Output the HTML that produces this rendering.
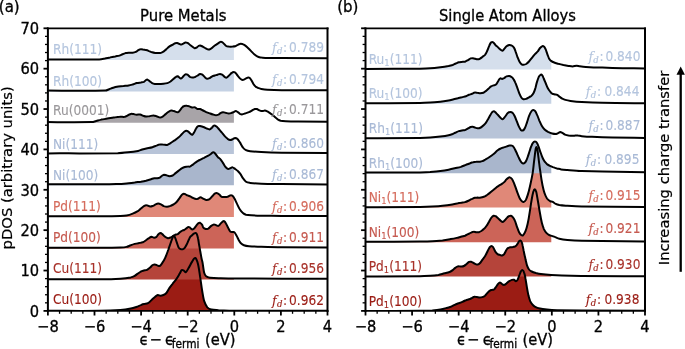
<!DOCTYPE html>
<html><head><meta charset="utf-8"><title>pDOS</title><style>html,body{margin:0;padding:0;background:#fff}</style></head><body>
<svg width="685" height="349" viewBox="0 0 685 349" style="display:block;will-change:transform">
<rect width="685" height="349" fill="#fff"/>
<clipPath id="cp0"><rect x="47.9" y="28.3" width="279.6" height="282.6"/></clipPath>
<clipPath id="cf0"><rect x="47.9" y="28.3" width="186.0" height="282.6"/></clipPath>
<g clip-path="url(#cf0)">
<path d="M46.9,310.8C64.6,310.8 82.3,311.0 100.0,310.8C106.8,310.7 113.6,310.4 120.4,309.9C123.8,309.7 127.2,309.2 130.7,308.5C132.7,308.2 134.7,307.5 136.8,306.8C138.1,306.3 139.5,305.6 140.9,305.1C141.9,304.7 142.9,304.3 143.9,304.1C145.3,303.7 146.7,304.0 148.0,303.2C149.4,302.5 150.8,300.8 152.1,299.5C153.1,298.6 154.2,297.5 155.2,296.7C156.1,296.0 157.0,295.2 157.8,295.0C158.7,294.9 159.5,295.7 160.3,295.7C161.3,295.7 162.3,295.5 163.4,295.0C164.4,294.6 165.4,294.2 166.4,293.0C167.4,291.8 168.5,289.4 169.5,287.9C170.5,286.4 171.5,285.1 172.6,283.8C173.9,282.1 175.3,280.6 176.6,278.7C177.7,277.2 178.7,275.3 179.7,273.6C180.4,272.4 181.1,270.6 181.7,270.1C182.4,269.6 183.1,270.2 183.8,270.5C184.5,270.9 185.2,272.6 185.8,272.2C186.9,271.5 187.9,269.2 188.9,267.5C189.9,265.8 190.9,263.6 192.0,261.9C192.8,260.6 193.6,258.9 194.4,258.3C195.0,257.8 195.5,257.8 196.1,258.7C196.7,259.8 197.4,261.4 198.1,264.4C198.8,267.4 199.5,272.2 200.1,276.7C200.8,281.1 201.5,286.9 202.2,291.0C202.9,295.0 203.5,299.0 204.2,301.2C205.3,304.4 206.3,306.1 207.3,307.3C208.7,308.9 210.0,309.2 211.4,309.5C213.8,310.1 216.2,310.0 218.5,310.2C225.7,310.5 232.8,310.7 240.0,310.8C269.5,310.9 299.0,310.8 328.5,310.8L328.5,310.9L46.9,310.9Z" fill="#9b1c14"/>
<path d="M46.9,279.2C64.6,279.2 82.3,279.3 100.0,279.2C106.8,279.2 113.6,279.1 120.4,278.7C123.8,278.5 127.2,278.1 130.7,277.4C132.0,277.1 133.4,276.5 134.7,275.8C135.8,275.2 136.8,274.3 137.8,273.6C138.8,272.9 139.9,272.1 140.9,271.5C141.9,271.0 142.9,270.8 143.9,270.5C145.0,270.3 146.0,270.4 147.0,269.9C148.0,269.4 149.0,268.3 150.1,267.5C151.0,266.7 151.8,265.6 152.7,265.0C153.4,264.6 154.1,264.3 154.8,264.4C155.6,264.5 156.4,265.1 157.2,265.4C158.0,265.7 158.9,266.4 159.7,266.0C160.5,265.6 161.4,264.2 162.3,262.9C163.3,261.4 164.3,259.9 165.3,257.6C166.3,255.4 167.4,252.2 168.4,249.5C169.2,247.1 170.1,244.7 170.9,242.3C171.6,240.4 172.3,238.2 173.0,236.7C173.3,235.9 173.7,235.4 174.0,235.7C174.5,236.0 174.9,237.1 175.3,238.2C175.9,239.7 176.5,241.7 177.1,243.3C177.6,244.8 178.1,246.5 178.6,247.4C179.1,248.4 179.6,248.7 180.1,248.9C181.0,249.3 181.8,249.4 182.7,249.3C183.4,249.1 184.1,248.7 184.7,247.9C185.4,247.1 186.1,245.7 186.8,244.3C187.5,243.0 188.1,241.2 188.8,239.8C189.3,238.7 189.9,237.4 190.4,236.7C190.9,236.0 191.4,235.8 191.9,235.4C192.6,234.8 193.3,234.1 193.9,233.6C194.5,233.3 195.0,232.8 195.5,232.9C195.9,233.0 196.4,233.2 196.8,234.1C197.2,235.0 197.6,236.4 198.0,238.2C198.4,239.8 198.7,242.3 199.0,244.3C199.5,246.8 199.9,249.2 200.3,251.5C200.7,254.0 201.2,256.5 201.6,258.7C201.9,260.3 202.3,261.0 202.6,262.9C203.1,265.7 203.6,270.7 204.1,272.6C204.8,275.2 205.4,275.7 206.1,276.2C207.5,277.4 208.9,277.5 210.2,277.7C213.6,278.2 217.0,278.2 220.4,278.3C224.9,278.4 229.3,278.5 233.7,278.5C249.7,278.6 265.7,278.7 281.7,278.7C297.1,278.7 312.4,278.7 327.7,278.7L327.7,279.6L46.9,279.6Z" fill="#b5443a"/>
<path d="M46.9,247.8C64.6,247.8 82.3,247.8 100.0,247.8C106.8,247.7 113.6,247.8 120.4,247.6C122.5,247.5 124.5,247.4 126.6,246.9C127.9,246.6 129.3,245.8 130.7,245.3C132.0,244.8 133.4,244.3 134.7,243.9C136.1,243.5 137.5,243.3 138.8,243.1C140.2,242.8 141.6,242.8 142.9,242.2C143.9,241.8 145.0,240.9 146.0,240.2C147.0,239.5 148.0,238.8 149.0,238.2C149.9,237.6 150.7,236.8 151.5,236.7C152.4,236.7 153.3,237.7 154.2,237.8C154.8,237.8 155.5,237.7 156.2,237.1C156.9,236.6 157.6,235.2 158.2,234.5C158.9,233.8 159.6,233.1 160.3,233.0C161.0,233.0 161.7,233.5 162.3,234.1C163.2,234.8 164.1,236.1 165.0,236.7C165.9,237.4 166.9,238.0 167.9,238.2C168.7,238.3 169.6,237.9 170.5,237.5C171.2,237.3 171.9,236.7 172.6,236.3C173.2,235.9 173.9,235.4 174.6,235.1C175.6,234.6 176.6,234.6 177.7,234.1C178.5,233.6 179.3,232.7 180.1,232.0C180.8,231.5 181.5,230.9 182.2,230.6C182.8,230.3 183.5,230.3 184.2,230.0C184.9,229.6 185.6,229.1 186.2,228.6C186.9,228.0 187.6,227.1 188.3,226.9C188.8,226.8 189.4,227.2 189.9,227.5C190.6,228.0 191.3,229.2 192.0,229.4C192.6,229.5 193.3,229.1 194.0,228.6C194.7,228.0 195.4,226.7 196.1,225.9C196.7,225.0 197.4,224.0 198.1,223.4C198.8,222.9 199.5,222.6 200.1,222.8C200.8,223.1 201.5,223.8 202.2,224.9C202.5,225.3 202.8,227.0 203.1,227.3C204.0,228.4 204.8,228.7 205.7,229.0C206.5,229.2 207.4,229.0 208.2,228.6C209.2,228.0 210.2,226.6 211.2,225.9C212.1,225.3 213.0,224.6 213.9,224.5C214.7,224.4 215.5,225.0 216.3,225.3C217.0,225.5 217.7,226.1 218.4,225.9C219.1,225.7 219.8,224.5 220.4,223.9C221.3,223.0 222.1,221.9 222.9,221.4C223.4,221.1 224.0,221.0 224.5,221.4C225.1,221.8 225.6,222.9 226.2,223.9C226.8,225.1 227.5,226.7 228.2,227.9C228.9,229.2 229.6,230.8 230.2,231.4C231.1,232.2 231.9,231.8 232.7,232.0C233.4,232.2 234.1,232.0 234.7,232.6C235.4,233.3 236.1,234.9 236.8,236.1C237.5,237.4 238.1,239.0 238.8,240.2C239.5,241.4 240.2,242.6 240.9,243.3C241.9,244.3 242.9,244.9 243.9,245.3C245.6,246.0 247.3,246.2 249.0,246.3C253.1,246.7 257.2,246.6 261.3,246.7C268.1,246.9 274.9,247.1 281.7,247.2C297.1,247.3 312.4,247.3 327.7,247.4L327.7,248.5L46.9,248.5Z" fill="#cc6458"/>
<path d="M46.9,216.3C64.6,216.3 82.3,216.3 100.0,216.3C106.8,216.3 113.6,216.3 120.4,216.1C122.5,216.0 124.5,215.9 126.6,215.5C128.6,215.1 130.7,214.4 132.7,213.6C134.4,213.0 136.1,212.2 137.8,211.2C138.8,210.5 139.9,209.4 140.9,208.5C141.9,207.7 142.9,206.7 143.9,206.1C144.8,205.6 145.7,205.2 146.6,205.3C147.8,205.3 148.9,206.4 150.1,206.5C151.1,206.6 152.1,206.2 153.1,205.9C154.0,205.6 154.8,204.8 155.6,204.4C156.5,204.0 157.4,203.6 158.2,203.6C159.1,203.6 160.0,204.0 160.9,204.4C161.9,204.9 162.8,205.7 163.8,206.1C164.9,206.5 165.9,206.7 167.0,206.7C168.2,206.7 169.4,206.3 170.5,205.9C171.5,205.5 172.6,205.1 173.6,204.4C174.6,203.8 175.6,203.1 176.6,202.0C177.7,200.9 178.7,199.3 179.7,197.9C180.5,196.8 181.3,195.4 182.2,194.6C182.8,194.0 183.5,193.7 184.2,193.8C185.1,193.9 186.0,194.9 186.9,195.2C187.9,195.7 188.9,195.8 189.9,196.3C190.9,196.7 192.0,197.4 193.0,197.9C194.0,198.4 195.0,199.0 196.1,199.1C196.7,199.2 197.4,199.0 198.1,198.7C198.9,198.4 199.7,197.3 200.6,197.3C201.4,197.3 202.2,198.3 203.1,198.7C204.1,199.2 205.1,199.8 206.1,199.9C207.2,200.0 208.2,199.9 209.2,199.3C210.2,198.7 211.2,197.3 212.3,196.3C213.1,195.4 213.9,194.1 214.7,193.6C215.6,193.1 216.5,193.0 217.4,193.2C218.1,193.3 218.7,194.0 219.4,194.6C220.1,195.2 220.8,196.4 221.5,196.7C222.5,197.1 223.5,196.9 224.5,196.9C225.5,196.9 226.6,196.9 227.6,196.7C228.5,196.4 229.4,195.6 230.2,195.4C230.9,195.3 231.6,195.2 232.3,195.6C233.0,196.1 233.7,197.1 234.3,198.3C235.2,199.7 236.0,201.8 236.8,203.4C237.8,205.5 238.8,207.9 239.9,209.5C240.9,211.1 241.9,212.2 242.9,213.0C243.9,213.9 245.0,214.4 246.0,214.7C247.7,215.1 249.4,215.2 251.1,215.3C254.5,215.5 257.9,215.6 261.3,215.7C268.1,215.8 274.9,215.8 281.7,215.9C297.1,216.0 312.4,216.0 327.7,216.1L327.7,216.9L46.9,216.9Z" fill="#e08878"/>
<path d="M46.9,184.3C64.6,184.3 82.3,184.4 100.0,184.3C105.4,184.3 110.9,184.3 116.3,184.1C119.8,184.0 123.2,183.8 126.6,183.5C129.3,183.3 132.0,182.8 134.7,182.5C136.8,182.2 138.8,182.0 140.9,181.7C142.6,181.4 144.3,181.1 146.0,180.7C147.7,180.2 149.4,179.7 151.1,179.2C152.1,178.9 153.1,178.4 154.2,178.2C155.2,178.0 156.2,178.3 157.2,178.2C158.0,178.1 158.9,178.0 159.7,177.6C160.4,177.2 161.2,176.2 161.9,175.8C162.6,175.3 163.3,174.8 164.0,174.7C164.8,174.7 165.6,175.1 166.4,175.3C167.4,175.6 168.5,176.1 169.5,176.2C170.5,176.2 171.5,176.1 172.6,175.5C173.6,175.0 174.6,173.9 175.6,173.1C176.6,172.3 177.7,171.4 178.7,170.6C179.7,169.9 180.7,169.0 181.7,168.4C182.8,167.8 183.8,167.3 184.8,167.0C185.8,166.7 186.9,166.6 187.9,166.6C188.6,166.5 189.2,166.8 189.9,166.6C190.7,166.3 191.6,165.5 192.4,164.9C193.3,164.3 194.1,163.5 195.0,162.9C196.1,162.1 197.1,161.5 198.1,160.8C198.7,160.4 199.4,160.1 200.0,159.8C201.4,159.1 202.7,158.4 204.1,157.8C205.4,157.1 206.8,156.5 208.2,155.7C209.2,155.1 210.2,154.4 211.2,153.7C211.9,153.2 212.6,152.2 213.3,152.2C214.0,152.2 214.6,153.0 215.3,153.7C216.2,154.6 217.1,156.2 218.0,157.2C218.8,158.0 219.6,158.2 220.4,159.2C221.3,160.1 222.1,161.6 222.9,162.9C223.8,164.2 224.7,165.9 225.5,167.0C226.4,168.0 227.3,168.8 228.2,169.0C229.0,169.2 229.8,168.3 230.7,168.0C231.3,167.7 232.0,167.2 232.7,167.4C233.5,167.6 234.3,168.4 235.2,169.0C236.0,169.6 236.9,170.2 237.8,171.0C238.7,171.9 239.6,172.9 240.5,174.1C241.3,175.3 242.1,177.1 242.9,178.2C243.9,179.6 245.0,181.0 246.0,181.7C247.3,182.6 248.7,182.7 250.1,182.9C253.8,183.4 257.6,183.6 261.3,183.7C268.1,184.0 274.9,184.0 281.7,184.1C297.1,184.3 312.4,184.4 327.7,184.5L327.7,185.3L46.9,185.3Z" fill="#a9b6cc"/>
<path d="M40.0,153.4C65.9,153.3 91.8,153.5 117.7,153.2C121.1,153.1 124.5,152.7 127.9,152.3C131.3,152.0 134.7,151.6 138.1,150.9C139.5,150.6 140.8,149.9 142.2,149.5C143.9,149.0 145.6,148.6 147.3,148.2C149.0,147.9 150.7,147.7 152.4,147.2C153.8,146.8 155.1,146.1 156.5,145.6C157.5,145.2 158.5,144.7 159.6,144.6C160.6,144.4 161.6,144.5 162.6,144.6C164.0,144.6 165.3,144.9 166.7,145.0C167.0,145.0 167.2,145.0 167.4,144.9C168.5,144.4 169.5,143.7 170.5,143.1C171.9,142.2 173.2,141.3 174.6,140.4C176.0,139.4 177.3,138.5 178.7,137.3C179.7,136.5 180.7,135.3 181.7,134.3C182.6,133.4 183.4,132.4 184.2,131.8C184.9,131.3 185.6,130.8 186.2,130.8C186.9,130.8 187.6,131.1 188.3,131.6C189.0,132.1 189.7,133.1 190.3,133.6C191.0,134.2 191.7,134.9 192.4,134.7C192.9,134.5 193.5,133.5 194.0,132.6C194.7,131.5 195.4,129.6 196.1,128.5C196.7,127.4 197.4,126.5 198.1,126.1C198.7,125.7 199.4,126.0 200.0,126.1C201.4,126.4 202.7,126.8 204.1,127.3C205.1,127.7 206.1,128.4 207.2,128.7C208.0,129.1 208.9,129.5 209.8,129.4C210.5,129.2 211.2,128.3 211.9,127.7C212.5,127.1 213.2,126.0 213.9,125.7C214.6,125.4 215.3,125.7 215.9,126.1C216.8,126.6 217.6,127.6 218.4,128.5C219.4,129.7 220.4,131.0 221.5,132.2C222.5,133.4 223.5,134.8 224.5,135.9C225.5,137.0 226.6,138.0 227.6,138.8C228.5,139.4 229.4,139.9 230.2,140.0C231.1,140.1 231.9,139.5 232.7,139.2C233.5,138.8 234.3,138.0 235.2,137.9C235.8,137.9 236.5,138.1 237.2,138.8C238.1,139.6 239.0,141.1 239.9,142.4C240.9,144.0 241.9,146.3 242.9,147.5C243.9,148.8 245.0,149.7 246.0,150.2C247.3,150.9 248.7,151.1 250.1,151.2C253.8,151.7 257.6,151.9 261.3,152.0C268.1,152.4 274.9,152.6 281.7,152.7C297.1,152.9 312.4,152.9 327.7,153.1L327.7,154.0L40.0,154.0Z" fill="#b8c4d8"/>
<path d="M40.0,122.1C57.4,122.1 74.7,122.4 92.1,122.1C93.5,122.1 94.8,121.4 96.2,121.1C97.9,120.6 99.6,120.0 101.3,119.6C103.4,119.2 105.4,119.0 107.4,118.6C109.5,118.3 111.5,117.9 113.6,117.6C115.6,117.3 117.7,116.9 119.7,116.8C121.4,116.6 123.1,117.1 124.8,116.8C125.8,116.6 126.9,115.8 127.9,115.3C128.9,114.9 129.9,114.1 130.9,113.9C131.8,113.7 132.7,114.0 133.6,114.1C134.6,114.3 135.5,114.7 136.5,114.7C137.7,114.8 138.9,114.3 140.1,114.5C141.2,114.7 142.2,115.4 143.2,115.8C144.1,116.1 145.0,116.5 145.9,116.6C147.0,116.6 148.2,116.3 149.3,116.2C150.7,116.0 152.1,115.5 153.4,115.5C154.4,115.5 155.5,115.9 156.5,116.2C157.7,116.5 158.9,117.5 160.2,117.6C161.0,117.6 161.8,117.1 162.6,116.6C163.6,115.9 164.7,114.9 165.7,114.1C166.7,113.3 167.7,112.3 168.8,111.7C169.6,111.1 170.4,110.7 171.2,110.6C172.1,110.5 173.0,110.8 173.9,111.1C174.8,111.3 175.6,111.8 176.5,112.1C177.0,112.2 177.6,112.4 178.1,112.1C178.8,111.7 179.4,110.9 180.1,110.1C180.8,109.3 181.5,108.1 182.2,107.4C182.8,106.7 183.5,106.2 184.2,106.0C185.1,105.7 186.0,105.7 186.9,105.8C187.7,105.8 188.6,106.1 189.5,106.4C190.3,106.7 191.2,107.3 192.0,107.4C193.0,107.6 194.0,107.1 195.0,107.4C195.9,107.7 196.8,108.8 197.7,109.0C198.5,109.3 199.2,108.8 200.0,109.0C201.0,109.3 202.0,110.0 203.1,110.5C204.1,111.0 205.1,111.7 206.1,112.1C207.5,112.7 208.9,113.1 210.2,113.5C211.2,113.9 212.3,114.3 213.3,114.6C214.2,114.8 215.1,115.2 215.9,115.2C216.8,115.2 217.6,114.9 218.4,114.6C219.1,114.3 219.8,113.5 220.4,113.1C221.3,112.7 222.1,112.4 222.9,112.3C223.8,112.2 224.7,112.5 225.5,112.7C226.6,112.9 227.6,113.5 228.6,113.5C229.4,113.6 230.2,113.4 231.1,113.1C232.0,112.9 232.8,112.5 233.7,112.1C234.4,111.8 235.1,111.1 235.8,111.1C236.4,111.1 237.1,111.7 237.8,112.1C238.5,112.6 239.2,113.4 239.9,113.8C240.5,114.1 241.2,114.4 241.9,114.4C242.9,114.3 243.9,113.9 245.0,113.5C246.3,113.1 247.7,112.7 249.0,112.1C250.1,111.7 251.1,111.0 252.1,110.5C253.0,110.0 253.9,109.3 254.8,109.0C255.5,108.8 256.1,108.9 256.8,109.0C257.6,109.3 258.5,109.9 259.3,110.3C259.9,110.6 260.6,111.0 261.3,111.1C262.1,111.2 262.9,110.8 263.8,110.7C264.4,110.6 265.1,110.5 265.8,110.7C266.7,111.0 267.6,111.6 268.5,112.1C269.5,112.7 270.5,113.4 271.5,114.2C272.6,114.9 273.6,116.0 274.6,116.8C275.6,117.7 276.6,118.6 277.7,119.3C278.7,119.9 279.7,120.4 280.7,120.7C282.4,121.1 284.1,121.2 285.8,121.3C289.9,121.5 294.0,121.5 298.1,121.5C308.0,121.6 317.9,121.7 327.7,121.7L327.7,122.7L40.0,122.7Z" fill="#a8a4a8"/>
<path d="M40.0,90.6C61.8,90.6 83.6,91.1 105.4,90.6C106.7,90.6 107.9,89.7 109.2,89.2C110.6,88.7 111.9,88.1 113.3,87.7C115.0,87.2 116.7,86.9 118.4,86.6C120.1,86.3 121.8,86.1 123.5,86.0C125.2,85.8 126.9,85.8 128.6,85.5C130.0,85.3 131.3,84.9 132.7,84.5C134.1,84.1 135.4,83.4 136.8,83.1C138.1,82.8 139.5,82.7 140.9,82.5C141.9,82.3 142.9,82.4 143.9,81.9C144.6,81.5 145.3,80.5 146.0,80.0C146.5,79.7 146.9,79.5 147.4,79.6C148.1,79.8 148.8,80.5 149.5,81.1C150.3,81.7 151.2,82.6 152.1,83.1C153.0,83.6 153.9,83.8 154.8,83.9C156.3,84.1 157.8,83.9 159.3,83.9C160.6,83.9 162.0,83.8 163.4,83.7C164.7,83.6 166.1,83.5 167.4,83.1C168.5,82.8 169.5,82.2 170.5,81.5C171.5,80.7 172.6,79.7 173.6,78.8C174.4,78.1 175.2,77.2 176.0,76.8C176.6,76.4 177.1,76.2 177.7,76.3C178.3,76.5 179.0,77.4 179.7,77.8C180.3,78.1 180.8,78.6 181.3,78.4C182.0,78.1 182.7,77.0 183.4,76.3C184.1,75.7 184.7,74.6 185.4,74.3C186.1,74.0 186.8,74.3 187.5,74.7C188.3,75.2 189.1,76.3 189.9,76.8C190.7,77.2 191.6,77.5 192.4,77.6C193.3,77.6 194.1,77.3 195.0,77.0C195.9,76.6 196.8,76.1 197.7,75.5C198.5,75.1 199.2,74.0 200.0,73.9C200.8,73.8 201.6,74.2 202.5,74.7C203.3,75.3 204.2,76.6 205.1,77.4C205.8,78.0 206.5,78.7 207.2,78.8C208.0,78.9 208.9,78.4 209.8,78.0C210.6,77.6 211.4,76.8 212.3,76.3C213.1,75.9 213.9,75.8 214.7,75.5C215.6,75.2 216.5,75.0 217.4,74.7C218.3,74.4 219.1,73.9 220.0,73.9C220.7,73.9 221.4,74.3 222.1,74.7C222.9,75.2 223.7,76.2 224.5,76.8C225.2,77.2 225.9,77.8 226.6,77.6C227.4,77.4 228.2,76.3 229.0,75.5C229.9,74.7 230.8,73.6 231.7,72.9C232.4,72.3 233.0,71.8 233.7,71.9C234.4,71.9 235.1,72.4 235.8,73.1C236.4,73.8 237.1,75.1 237.8,75.9C238.5,76.8 239.2,77.7 239.9,78.4C240.5,79.0 241.2,79.6 241.9,79.8C242.6,80.0 243.3,79.9 243.9,79.6C244.6,79.4 245.3,78.7 246.0,78.4C246.7,78.1 247.3,77.7 248.0,77.6C248.6,77.5 249.1,77.5 249.7,78.0C250.3,78.5 250.9,79.5 251.5,80.4C252.2,81.5 252.9,83.1 253.5,84.1C254.2,85.1 254.9,86.0 255.6,86.6C256.5,87.3 257.4,87.6 258.2,88.0C259.3,88.4 260.3,88.8 261.3,89.0C263.4,89.4 265.4,89.7 267.4,89.8C272.2,90.1 277.0,90.2 281.7,90.2C297.1,90.4 312.4,90.2 327.7,90.2L327.7,91.5L40.0,91.5Z" fill="#c5d2e4"/>
<path d="M40.0,59.5C59.8,59.5 79.5,59.8 99.3,59.5C101.2,59.5 103.2,58.9 105.1,58.5C106.8,58.2 108.5,57.7 110.2,57.4C111.9,57.0 113.6,56.7 115.3,56.4C116.7,56.1 118.1,56.0 119.4,55.6C120.4,55.3 121.5,54.6 122.5,54.2C123.5,53.8 124.5,53.4 125.5,53.1C126.6,52.9 127.6,52.8 128.6,52.7C130.0,52.7 131.3,52.9 132.7,52.7C133.7,52.6 134.7,52.4 135.8,51.9C136.7,51.5 137.5,50.6 138.4,50.1C139.1,49.7 139.8,49.3 140.5,49.3C141.3,49.1 142.1,49.3 142.9,49.5C143.9,49.6 145.0,49.8 146.0,50.1C147.0,50.3 148.0,50.7 149.0,51.1C150.1,51.5 151.1,52.0 152.1,52.3C153.1,52.6 154.2,52.8 155.2,52.9C156.2,53.1 157.2,53.1 158.2,53.1C159.1,53.1 160.0,53.2 160.9,52.9C161.7,52.7 162.5,52.3 163.4,51.7C164.4,51.0 165.4,49.9 166.4,49.1C167.4,48.2 168.5,47.1 169.5,46.4C170.5,45.7 171.5,45.3 172.6,44.8C173.4,44.3 174.3,43.6 175.2,43.3C175.9,43.1 176.6,43.0 177.3,43.1C177.9,43.2 178.6,43.7 179.3,43.9C180.0,44.2 180.7,44.6 181.3,44.6C182.0,44.5 182.7,43.9 183.4,43.5C184.1,43.2 184.7,42.6 185.4,42.5C186.1,42.4 186.8,42.6 187.5,42.9C188.3,43.3 189.1,44.1 189.9,44.8C190.7,45.4 191.6,46.2 192.4,46.8C193.1,47.4 193.9,48.1 194.6,48.2C195.2,48.4 195.9,48.0 196.5,47.6C197.1,47.2 197.8,46.4 198.5,46.0C199.0,45.7 199.5,45.3 200.0,45.4C201.0,45.6 202.0,46.3 203.1,46.8C204.0,47.3 204.8,48.0 205.7,48.4C206.5,48.9 207.4,49.4 208.2,49.5C209.0,49.5 209.8,49.3 210.6,48.8C211.5,48.4 212.4,47.5 213.3,46.8C214.2,46.1 215.1,45.4 215.9,44.8C216.8,44.2 217.6,43.6 218.4,43.1C219.1,42.7 219.8,42.1 220.4,41.9C221.0,41.7 221.5,41.8 222.1,42.1C222.8,42.5 223.4,43.3 224.1,43.9C224.8,44.6 225.5,45.6 226.2,46.0C227.0,46.5 227.8,46.5 228.6,46.6C230.0,46.7 231.3,46.7 232.7,46.6C233.7,46.5 234.7,46.4 235.8,46.0C236.4,45.7 237.1,45.1 237.8,44.8C238.5,44.4 239.2,44.0 239.9,43.9C240.7,43.8 241.6,43.9 242.5,44.1C243.3,44.4 244.1,44.8 245.0,45.4C246.0,46.1 247.0,47.1 248.0,48.0C249.0,49.0 250.1,50.1 251.1,51.1C252.1,52.1 253.1,53.3 254.2,54.2C255.2,55.0 256.2,55.8 257.2,56.3C258.2,56.9 259.3,57.2 260.3,57.4C262.0,57.8 263.7,57.9 265.4,57.9C270.8,58.1 276.3,58.1 281.7,58.1C297.1,58.2 312.4,58.2 327.7,58.3L327.7,60.0L40.0,60.0Z" fill="#d5dfec"/>
</g>
<g clip-path="url(#cp0)" fill="none" stroke="#000" stroke-width="2.0" stroke-linejoin="round">
<path d="M46.9,310.8C64.6,310.8 82.3,311.0 100.0,310.8C106.8,310.7 113.6,310.4 120.4,309.9C123.8,309.7 127.2,309.2 130.7,308.5C132.7,308.2 134.7,307.5 136.8,306.8C138.1,306.3 139.5,305.6 140.9,305.1C141.9,304.7 142.9,304.3 143.9,304.1C145.3,303.7 146.7,304.0 148.0,303.2C149.4,302.5 150.8,300.8 152.1,299.5C153.1,298.6 154.2,297.5 155.2,296.7C156.1,296.0 157.0,295.2 157.8,295.0C158.7,294.9 159.5,295.7 160.3,295.7C161.3,295.7 162.3,295.5 163.4,295.0C164.4,294.6 165.4,294.2 166.4,293.0C167.4,291.8 168.5,289.4 169.5,287.9C170.5,286.4 171.5,285.1 172.6,283.8C173.9,282.1 175.3,280.6 176.6,278.7C177.7,277.2 178.7,275.3 179.7,273.6C180.4,272.4 181.1,270.6 181.7,270.1C182.4,269.6 183.1,270.2 183.8,270.5C184.5,270.9 185.2,272.6 185.8,272.2C186.9,271.5 187.9,269.2 188.9,267.5C189.9,265.8 190.9,263.6 192.0,261.9C192.8,260.6 193.6,258.9 194.4,258.3C195.0,257.8 195.5,257.8 196.1,258.7C196.7,259.8 197.4,261.4 198.1,264.4C198.8,267.4 199.5,272.2 200.1,276.7C200.8,281.1 201.5,286.9 202.2,291.0C202.9,295.0 203.5,299.0 204.2,301.2C205.3,304.4 206.3,306.1 207.3,307.3C208.7,308.9 210.0,309.2 211.4,309.5C213.8,310.1 216.2,310.0 218.5,310.2C225.7,310.5 232.8,310.7 240.0,310.8C269.5,310.9 299.0,310.8 328.5,310.8"/>
<path d="M46.9,279.2C64.6,279.2 82.3,279.3 100.0,279.2C106.8,279.2 113.6,279.1 120.4,278.7C123.8,278.5 127.2,278.1 130.7,277.4C132.0,277.1 133.4,276.5 134.7,275.8C135.8,275.2 136.8,274.3 137.8,273.6C138.8,272.9 139.9,272.1 140.9,271.5C141.9,271.0 142.9,270.8 143.9,270.5C145.0,270.3 146.0,270.4 147.0,269.9C148.0,269.4 149.0,268.3 150.1,267.5C151.0,266.7 151.8,265.6 152.7,265.0C153.4,264.6 154.1,264.3 154.8,264.4C155.6,264.5 156.4,265.1 157.2,265.4C158.0,265.7 158.9,266.4 159.7,266.0C160.5,265.6 161.4,264.2 162.3,262.9C163.3,261.4 164.3,259.9 165.3,257.6C166.3,255.4 167.4,252.2 168.4,249.5C169.2,247.1 170.1,244.7 170.9,242.3C171.6,240.4 172.3,238.2 173.0,236.7C173.3,235.9 173.7,235.4 174.0,235.7C174.5,236.0 174.9,237.1 175.3,238.2C175.9,239.7 176.5,241.7 177.1,243.3C177.6,244.8 178.1,246.5 178.6,247.4C179.1,248.4 179.6,248.7 180.1,248.9C181.0,249.3 181.8,249.4 182.7,249.3C183.4,249.1 184.1,248.7 184.7,247.9C185.4,247.1 186.1,245.7 186.8,244.3C187.5,243.0 188.1,241.2 188.8,239.8C189.3,238.7 189.9,237.4 190.4,236.7C190.9,236.0 191.4,235.8 191.9,235.4C192.6,234.8 193.3,234.1 193.9,233.6C194.5,233.3 195.0,232.8 195.5,232.9C195.9,233.0 196.4,233.2 196.8,234.1C197.2,235.0 197.6,236.4 198.0,238.2C198.4,239.8 198.7,242.3 199.0,244.3C199.5,246.8 199.9,249.2 200.3,251.5C200.7,254.0 201.2,256.5 201.6,258.7C201.9,260.3 202.3,261.0 202.6,262.9C203.1,265.7 203.6,270.7 204.1,272.6C204.8,275.2 205.4,275.7 206.1,276.2C207.5,277.4 208.9,277.5 210.2,277.7C213.6,278.2 217.0,278.2 220.4,278.3C224.9,278.4 229.3,278.5 233.7,278.5C249.7,278.6 265.7,278.7 281.7,278.7C297.1,278.7 312.4,278.7 327.7,278.7"/>
<path d="M46.9,247.8C64.6,247.8 82.3,247.8 100.0,247.8C106.8,247.7 113.6,247.8 120.4,247.6C122.5,247.5 124.5,247.4 126.6,246.9C127.9,246.6 129.3,245.8 130.7,245.3C132.0,244.8 133.4,244.3 134.7,243.9C136.1,243.5 137.5,243.3 138.8,243.1C140.2,242.8 141.6,242.8 142.9,242.2C143.9,241.8 145.0,240.9 146.0,240.2C147.0,239.5 148.0,238.8 149.0,238.2C149.9,237.6 150.7,236.8 151.5,236.7C152.4,236.7 153.3,237.7 154.2,237.8C154.8,237.8 155.5,237.7 156.2,237.1C156.9,236.6 157.6,235.2 158.2,234.5C158.9,233.8 159.6,233.1 160.3,233.0C161.0,233.0 161.7,233.5 162.3,234.1C163.2,234.8 164.1,236.1 165.0,236.7C165.9,237.4 166.9,238.0 167.9,238.2C168.7,238.3 169.6,237.9 170.5,237.5C171.2,237.3 171.9,236.7 172.6,236.3C173.2,235.9 173.9,235.4 174.6,235.1C175.6,234.6 176.6,234.6 177.7,234.1C178.5,233.6 179.3,232.7 180.1,232.0C180.8,231.5 181.5,230.9 182.2,230.6C182.8,230.3 183.5,230.3 184.2,230.0C184.9,229.6 185.6,229.1 186.2,228.6C186.9,228.0 187.6,227.1 188.3,226.9C188.8,226.8 189.4,227.2 189.9,227.5C190.6,228.0 191.3,229.2 192.0,229.4C192.6,229.5 193.3,229.1 194.0,228.6C194.7,228.0 195.4,226.7 196.1,225.9C196.7,225.0 197.4,224.0 198.1,223.4C198.8,222.9 199.5,222.6 200.1,222.8C200.8,223.1 201.5,223.8 202.2,224.9C202.5,225.3 202.8,227.0 203.1,227.3C204.0,228.4 204.8,228.7 205.7,229.0C206.5,229.2 207.4,229.0 208.2,228.6C209.2,228.0 210.2,226.6 211.2,225.9C212.1,225.3 213.0,224.6 213.9,224.5C214.7,224.4 215.5,225.0 216.3,225.3C217.0,225.5 217.7,226.1 218.4,225.9C219.1,225.7 219.8,224.5 220.4,223.9C221.3,223.0 222.1,221.9 222.9,221.4C223.4,221.1 224.0,221.0 224.5,221.4C225.1,221.8 225.6,222.9 226.2,223.9C226.8,225.1 227.5,226.7 228.2,227.9C228.9,229.2 229.6,230.8 230.2,231.4C231.1,232.2 231.9,231.8 232.7,232.0C233.4,232.2 234.1,232.0 234.7,232.6C235.4,233.3 236.1,234.9 236.8,236.1C237.5,237.4 238.1,239.0 238.8,240.2C239.5,241.4 240.2,242.6 240.9,243.3C241.9,244.3 242.9,244.9 243.9,245.3C245.6,246.0 247.3,246.2 249.0,246.3C253.1,246.7 257.2,246.6 261.3,246.7C268.1,246.9 274.9,247.1 281.7,247.2C297.1,247.3 312.4,247.3 327.7,247.4"/>
<path d="M46.9,216.3C64.6,216.3 82.3,216.3 100.0,216.3C106.8,216.3 113.6,216.3 120.4,216.1C122.5,216.0 124.5,215.9 126.6,215.5C128.6,215.1 130.7,214.4 132.7,213.6C134.4,213.0 136.1,212.2 137.8,211.2C138.8,210.5 139.9,209.4 140.9,208.5C141.9,207.7 142.9,206.7 143.9,206.1C144.8,205.6 145.7,205.2 146.6,205.3C147.8,205.3 148.9,206.4 150.1,206.5C151.1,206.6 152.1,206.2 153.1,205.9C154.0,205.6 154.8,204.8 155.6,204.4C156.5,204.0 157.4,203.6 158.2,203.6C159.1,203.6 160.0,204.0 160.9,204.4C161.9,204.9 162.8,205.7 163.8,206.1C164.9,206.5 165.9,206.7 167.0,206.7C168.2,206.7 169.4,206.3 170.5,205.9C171.5,205.5 172.6,205.1 173.6,204.4C174.6,203.8 175.6,203.1 176.6,202.0C177.7,200.9 178.7,199.3 179.7,197.9C180.5,196.8 181.3,195.4 182.2,194.6C182.8,194.0 183.5,193.7 184.2,193.8C185.1,193.9 186.0,194.9 186.9,195.2C187.9,195.7 188.9,195.8 189.9,196.3C190.9,196.7 192.0,197.4 193.0,197.9C194.0,198.4 195.0,199.0 196.1,199.1C196.7,199.2 197.4,199.0 198.1,198.7C198.9,198.4 199.7,197.3 200.6,197.3C201.4,197.3 202.2,198.3 203.1,198.7C204.1,199.2 205.1,199.8 206.1,199.9C207.2,200.0 208.2,199.9 209.2,199.3C210.2,198.7 211.2,197.3 212.3,196.3C213.1,195.4 213.9,194.1 214.7,193.6C215.6,193.1 216.5,193.0 217.4,193.2C218.1,193.3 218.7,194.0 219.4,194.6C220.1,195.2 220.8,196.4 221.5,196.7C222.5,197.1 223.5,196.9 224.5,196.9C225.5,196.9 226.6,196.9 227.6,196.7C228.5,196.4 229.4,195.6 230.2,195.4C230.9,195.3 231.6,195.2 232.3,195.6C233.0,196.1 233.7,197.1 234.3,198.3C235.2,199.7 236.0,201.8 236.8,203.4C237.8,205.5 238.8,207.9 239.9,209.5C240.9,211.1 241.9,212.2 242.9,213.0C243.9,213.9 245.0,214.4 246.0,214.7C247.7,215.1 249.4,215.2 251.1,215.3C254.5,215.5 257.9,215.6 261.3,215.7C268.1,215.8 274.9,215.8 281.7,215.9C297.1,216.0 312.4,216.0 327.7,216.1"/>
<path d="M46.9,184.3C64.6,184.3 82.3,184.4 100.0,184.3C105.4,184.3 110.9,184.3 116.3,184.1C119.8,184.0 123.2,183.8 126.6,183.5C129.3,183.3 132.0,182.8 134.7,182.5C136.8,182.2 138.8,182.0 140.9,181.7C142.6,181.4 144.3,181.1 146.0,180.7C147.7,180.2 149.4,179.7 151.1,179.2C152.1,178.9 153.1,178.4 154.2,178.2C155.2,178.0 156.2,178.3 157.2,178.2C158.0,178.1 158.9,178.0 159.7,177.6C160.4,177.2 161.2,176.2 161.9,175.8C162.6,175.3 163.3,174.8 164.0,174.7C164.8,174.7 165.6,175.1 166.4,175.3C167.4,175.6 168.5,176.1 169.5,176.2C170.5,176.2 171.5,176.1 172.6,175.5C173.6,175.0 174.6,173.9 175.6,173.1C176.6,172.3 177.7,171.4 178.7,170.6C179.7,169.9 180.7,169.0 181.7,168.4C182.8,167.8 183.8,167.3 184.8,167.0C185.8,166.7 186.9,166.6 187.9,166.6C188.6,166.5 189.2,166.8 189.9,166.6C190.7,166.3 191.6,165.5 192.4,164.9C193.3,164.3 194.1,163.5 195.0,162.9C196.1,162.1 197.1,161.5 198.1,160.8C198.7,160.4 199.4,160.1 200.0,159.8C201.4,159.1 202.7,158.4 204.1,157.8C205.4,157.1 206.8,156.5 208.2,155.7C209.2,155.1 210.2,154.4 211.2,153.7C211.9,153.2 212.6,152.2 213.3,152.2C214.0,152.2 214.6,153.0 215.3,153.7C216.2,154.6 217.1,156.2 218.0,157.2C218.8,158.0 219.6,158.2 220.4,159.2C221.3,160.1 222.1,161.6 222.9,162.9C223.8,164.2 224.7,165.9 225.5,167.0C226.4,168.0 227.3,168.8 228.2,169.0C229.0,169.2 229.8,168.3 230.7,168.0C231.3,167.7 232.0,167.2 232.7,167.4C233.5,167.6 234.3,168.4 235.2,169.0C236.0,169.6 236.9,170.2 237.8,171.0C238.7,171.9 239.6,172.9 240.5,174.1C241.3,175.3 242.1,177.1 242.9,178.2C243.9,179.6 245.0,181.0 246.0,181.7C247.3,182.6 248.7,182.7 250.1,182.9C253.8,183.4 257.6,183.6 261.3,183.7C268.1,184.0 274.9,184.0 281.7,184.1C297.1,184.3 312.4,184.4 327.7,184.5"/>
<path d="M40.0,153.4C65.9,153.3 91.8,153.5 117.7,153.2C121.1,153.1 124.5,152.7 127.9,152.3C131.3,152.0 134.7,151.6 138.1,150.9C139.5,150.6 140.8,149.9 142.2,149.5C143.9,149.0 145.6,148.6 147.3,148.2C149.0,147.9 150.7,147.7 152.4,147.2C153.8,146.8 155.1,146.1 156.5,145.6C157.5,145.2 158.5,144.7 159.6,144.6C160.6,144.4 161.6,144.5 162.6,144.6C164.0,144.6 165.3,144.9 166.7,145.0C167.0,145.0 167.2,145.0 167.4,144.9C168.5,144.4 169.5,143.7 170.5,143.1C171.9,142.2 173.2,141.3 174.6,140.4C176.0,139.4 177.3,138.5 178.7,137.3C179.7,136.5 180.7,135.3 181.7,134.3C182.6,133.4 183.4,132.4 184.2,131.8C184.9,131.3 185.6,130.8 186.2,130.8C186.9,130.8 187.6,131.1 188.3,131.6C189.0,132.1 189.7,133.1 190.3,133.6C191.0,134.2 191.7,134.9 192.4,134.7C192.9,134.5 193.5,133.5 194.0,132.6C194.7,131.5 195.4,129.6 196.1,128.5C196.7,127.4 197.4,126.5 198.1,126.1C198.7,125.7 199.4,126.0 200.0,126.1C201.4,126.4 202.7,126.8 204.1,127.3C205.1,127.7 206.1,128.4 207.2,128.7C208.0,129.1 208.9,129.5 209.8,129.4C210.5,129.2 211.2,128.3 211.9,127.7C212.5,127.1 213.2,126.0 213.9,125.7C214.6,125.4 215.3,125.7 215.9,126.1C216.8,126.6 217.6,127.6 218.4,128.5C219.4,129.7 220.4,131.0 221.5,132.2C222.5,133.4 223.5,134.8 224.5,135.9C225.5,137.0 226.6,138.0 227.6,138.8C228.5,139.4 229.4,139.9 230.2,140.0C231.1,140.1 231.9,139.5 232.7,139.2C233.5,138.8 234.3,138.0 235.2,137.9C235.8,137.9 236.5,138.1 237.2,138.8C238.1,139.6 239.0,141.1 239.9,142.4C240.9,144.0 241.9,146.3 242.9,147.5C243.9,148.8 245.0,149.7 246.0,150.2C247.3,150.9 248.7,151.1 250.1,151.2C253.8,151.7 257.6,151.9 261.3,152.0C268.1,152.4 274.9,152.6 281.7,152.7C297.1,152.9 312.4,152.9 327.7,153.1"/>
<path d="M40.0,122.1C57.4,122.1 74.7,122.4 92.1,122.1C93.5,122.1 94.8,121.4 96.2,121.1C97.9,120.6 99.6,120.0 101.3,119.6C103.4,119.2 105.4,119.0 107.4,118.6C109.5,118.3 111.5,117.9 113.6,117.6C115.6,117.3 117.7,116.9 119.7,116.8C121.4,116.6 123.1,117.1 124.8,116.8C125.8,116.6 126.9,115.8 127.9,115.3C128.9,114.9 129.9,114.1 130.9,113.9C131.8,113.7 132.7,114.0 133.6,114.1C134.6,114.3 135.5,114.7 136.5,114.7C137.7,114.8 138.9,114.3 140.1,114.5C141.2,114.7 142.2,115.4 143.2,115.8C144.1,116.1 145.0,116.5 145.9,116.6C147.0,116.6 148.2,116.3 149.3,116.2C150.7,116.0 152.1,115.5 153.4,115.5C154.4,115.5 155.5,115.9 156.5,116.2C157.7,116.5 158.9,117.5 160.2,117.6C161.0,117.6 161.8,117.1 162.6,116.6C163.6,115.9 164.7,114.9 165.7,114.1C166.7,113.3 167.7,112.3 168.8,111.7C169.6,111.1 170.4,110.7 171.2,110.6C172.1,110.5 173.0,110.8 173.9,111.1C174.8,111.3 175.6,111.8 176.5,112.1C177.0,112.2 177.6,112.4 178.1,112.1C178.8,111.7 179.4,110.9 180.1,110.1C180.8,109.3 181.5,108.1 182.2,107.4C182.8,106.7 183.5,106.2 184.2,106.0C185.1,105.7 186.0,105.7 186.9,105.8C187.7,105.8 188.6,106.1 189.5,106.4C190.3,106.7 191.2,107.3 192.0,107.4C193.0,107.6 194.0,107.1 195.0,107.4C195.9,107.7 196.8,108.8 197.7,109.0C198.5,109.3 199.2,108.8 200.0,109.0C201.0,109.3 202.0,110.0 203.1,110.5C204.1,111.0 205.1,111.7 206.1,112.1C207.5,112.7 208.9,113.1 210.2,113.5C211.2,113.9 212.3,114.3 213.3,114.6C214.2,114.8 215.1,115.2 215.9,115.2C216.8,115.2 217.6,114.9 218.4,114.6C219.1,114.3 219.8,113.5 220.4,113.1C221.3,112.7 222.1,112.4 222.9,112.3C223.8,112.2 224.7,112.5 225.5,112.7C226.6,112.9 227.6,113.5 228.6,113.5C229.4,113.6 230.2,113.4 231.1,113.1C232.0,112.9 232.8,112.5 233.7,112.1C234.4,111.8 235.1,111.1 235.8,111.1C236.4,111.1 237.1,111.7 237.8,112.1C238.5,112.6 239.2,113.4 239.9,113.8C240.5,114.1 241.2,114.4 241.9,114.4C242.9,114.3 243.9,113.9 245.0,113.5C246.3,113.1 247.7,112.7 249.0,112.1C250.1,111.7 251.1,111.0 252.1,110.5C253.0,110.0 253.9,109.3 254.8,109.0C255.5,108.8 256.1,108.9 256.8,109.0C257.6,109.3 258.5,109.9 259.3,110.3C259.9,110.6 260.6,111.0 261.3,111.1C262.1,111.2 262.9,110.8 263.8,110.7C264.4,110.6 265.1,110.5 265.8,110.7C266.7,111.0 267.6,111.6 268.5,112.1C269.5,112.7 270.5,113.4 271.5,114.2C272.6,114.9 273.6,116.0 274.6,116.8C275.6,117.7 276.6,118.6 277.7,119.3C278.7,119.9 279.7,120.4 280.7,120.7C282.4,121.1 284.1,121.2 285.8,121.3C289.9,121.5 294.0,121.5 298.1,121.5C308.0,121.6 317.9,121.7 327.7,121.7"/>
<path d="M40.0,90.6C61.8,90.6 83.6,91.1 105.4,90.6C106.7,90.6 107.9,89.7 109.2,89.2C110.6,88.7 111.9,88.1 113.3,87.7C115.0,87.2 116.7,86.9 118.4,86.6C120.1,86.3 121.8,86.1 123.5,86.0C125.2,85.8 126.9,85.8 128.6,85.5C130.0,85.3 131.3,84.9 132.7,84.5C134.1,84.1 135.4,83.4 136.8,83.1C138.1,82.8 139.5,82.7 140.9,82.5C141.9,82.3 142.9,82.4 143.9,81.9C144.6,81.5 145.3,80.5 146.0,80.0C146.5,79.7 146.9,79.5 147.4,79.6C148.1,79.8 148.8,80.5 149.5,81.1C150.3,81.7 151.2,82.6 152.1,83.1C153.0,83.6 153.9,83.8 154.8,83.9C156.3,84.1 157.8,83.9 159.3,83.9C160.6,83.9 162.0,83.8 163.4,83.7C164.7,83.6 166.1,83.5 167.4,83.1C168.5,82.8 169.5,82.2 170.5,81.5C171.5,80.7 172.6,79.7 173.6,78.8C174.4,78.1 175.2,77.2 176.0,76.8C176.6,76.4 177.1,76.2 177.7,76.3C178.3,76.5 179.0,77.4 179.7,77.8C180.3,78.1 180.8,78.6 181.3,78.4C182.0,78.1 182.7,77.0 183.4,76.3C184.1,75.7 184.7,74.6 185.4,74.3C186.1,74.0 186.8,74.3 187.5,74.7C188.3,75.2 189.1,76.3 189.9,76.8C190.7,77.2 191.6,77.5 192.4,77.6C193.3,77.6 194.1,77.3 195.0,77.0C195.9,76.6 196.8,76.1 197.7,75.5C198.5,75.1 199.2,74.0 200.0,73.9C200.8,73.8 201.6,74.2 202.5,74.7C203.3,75.3 204.2,76.6 205.1,77.4C205.8,78.0 206.5,78.7 207.2,78.8C208.0,78.9 208.9,78.4 209.8,78.0C210.6,77.6 211.4,76.8 212.3,76.3C213.1,75.9 213.9,75.8 214.7,75.5C215.6,75.2 216.5,75.0 217.4,74.7C218.3,74.4 219.1,73.9 220.0,73.9C220.7,73.9 221.4,74.3 222.1,74.7C222.9,75.2 223.7,76.2 224.5,76.8C225.2,77.2 225.9,77.8 226.6,77.6C227.4,77.4 228.2,76.3 229.0,75.5C229.9,74.7 230.8,73.6 231.7,72.9C232.4,72.3 233.0,71.8 233.7,71.9C234.4,71.9 235.1,72.4 235.8,73.1C236.4,73.8 237.1,75.1 237.8,75.9C238.5,76.8 239.2,77.7 239.9,78.4C240.5,79.0 241.2,79.6 241.9,79.8C242.6,80.0 243.3,79.9 243.9,79.6C244.6,79.4 245.3,78.7 246.0,78.4C246.7,78.1 247.3,77.7 248.0,77.6C248.6,77.5 249.1,77.5 249.7,78.0C250.3,78.5 250.9,79.5 251.5,80.4C252.2,81.5 252.9,83.1 253.5,84.1C254.2,85.1 254.9,86.0 255.6,86.6C256.5,87.3 257.4,87.6 258.2,88.0C259.3,88.4 260.3,88.8 261.3,89.0C263.4,89.4 265.4,89.7 267.4,89.8C272.2,90.1 277.0,90.2 281.7,90.2C297.1,90.4 312.4,90.2 327.7,90.2"/>
<path d="M40.0,59.5C59.8,59.5 79.5,59.8 99.3,59.5C101.2,59.5 103.2,58.9 105.1,58.5C106.8,58.2 108.5,57.7 110.2,57.4C111.9,57.0 113.6,56.7 115.3,56.4C116.7,56.1 118.1,56.0 119.4,55.6C120.4,55.3 121.5,54.6 122.5,54.2C123.5,53.8 124.5,53.4 125.5,53.1C126.6,52.9 127.6,52.8 128.6,52.7C130.0,52.7 131.3,52.9 132.7,52.7C133.7,52.6 134.7,52.4 135.8,51.9C136.7,51.5 137.5,50.6 138.4,50.1C139.1,49.7 139.8,49.3 140.5,49.3C141.3,49.1 142.1,49.3 142.9,49.5C143.9,49.6 145.0,49.8 146.0,50.1C147.0,50.3 148.0,50.7 149.0,51.1C150.1,51.5 151.1,52.0 152.1,52.3C153.1,52.6 154.2,52.8 155.2,52.9C156.2,53.1 157.2,53.1 158.2,53.1C159.1,53.1 160.0,53.2 160.9,52.9C161.7,52.7 162.5,52.3 163.4,51.7C164.4,51.0 165.4,49.9 166.4,49.1C167.4,48.2 168.5,47.1 169.5,46.4C170.5,45.7 171.5,45.3 172.6,44.8C173.4,44.3 174.3,43.6 175.2,43.3C175.9,43.1 176.6,43.0 177.3,43.1C177.9,43.2 178.6,43.7 179.3,43.9C180.0,44.2 180.7,44.6 181.3,44.6C182.0,44.5 182.7,43.9 183.4,43.5C184.1,43.2 184.7,42.6 185.4,42.5C186.1,42.4 186.8,42.6 187.5,42.9C188.3,43.3 189.1,44.1 189.9,44.8C190.7,45.4 191.6,46.2 192.4,46.8C193.1,47.4 193.9,48.1 194.6,48.2C195.2,48.4 195.9,48.0 196.5,47.6C197.1,47.2 197.8,46.4 198.5,46.0C199.0,45.7 199.5,45.3 200.0,45.4C201.0,45.6 202.0,46.3 203.1,46.8C204.0,47.3 204.8,48.0 205.7,48.4C206.5,48.9 207.4,49.4 208.2,49.5C209.0,49.5 209.8,49.3 210.6,48.8C211.5,48.4 212.4,47.5 213.3,46.8C214.2,46.1 215.1,45.4 215.9,44.8C216.8,44.2 217.6,43.6 218.4,43.1C219.1,42.7 219.8,42.1 220.4,41.9C221.0,41.7 221.5,41.8 222.1,42.1C222.8,42.5 223.4,43.3 224.1,43.9C224.8,44.6 225.5,45.6 226.2,46.0C227.0,46.5 227.8,46.5 228.6,46.6C230.0,46.7 231.3,46.7 232.7,46.6C233.7,46.5 234.7,46.4 235.8,46.0C236.4,45.7 237.1,45.1 237.8,44.8C238.5,44.4 239.2,44.0 239.9,43.9C240.7,43.8 241.6,43.9 242.5,44.1C243.3,44.4 244.1,44.8 245.0,45.4C246.0,46.1 247.0,47.1 248.0,48.0C249.0,49.0 250.1,50.1 251.1,51.1C252.1,52.1 253.1,53.3 254.2,54.2C255.2,55.0 256.2,55.8 257.2,56.3C258.2,56.9 259.3,57.2 260.3,57.4C262.0,57.8 263.7,57.9 265.4,57.9C270.8,58.1 276.3,58.1 281.7,58.1C297.1,58.2 312.4,58.2 327.7,58.3"/>
</g>
<text transform="translate(53.00,304.00) scale(1,1.09)" font-size="12.2" fill="#9b1c14" stroke="#9b1c14" stroke-width="0.12" font-family="DejaVu Sans, Liberation Sans, sans-serif">Cu(100)</text>
<text transform="translate(272.00,305.00)" font-size="12.7" fill="#9b1c14" stroke="#9b1c14" stroke-width="0.1" font-family="DejaVu Serif, Liberation Serif, serif" font-style="italic">f</text>
<text transform="translate(276.90,307.40)" font-size="8.6" fill="#9b1c14" stroke="#9b1c14" stroke-width="0.2" font-family="DejaVu Serif, Liberation Serif, serif" font-style="italic">d</text>
<text transform="translate(283.10,305.00) scale(1,1.09)" font-size="12.2" fill="#9b1c14" stroke="#9b1c14" stroke-width="0.12" font-family="DejaVu Sans, Liberation Sans, sans-serif">:</text>
<text transform="translate(324.00,305.00) scale(1,1.09)" font-size="12.2" fill="#9b1c14" text-anchor="end" stroke="#9b1c14" stroke-width="0.12" font-family="DejaVu Sans, Liberation Sans, sans-serif">0.962</text>
<text transform="translate(53.00,273.00) scale(1,1.09)" font-size="12.2" fill="#a8322a" stroke="#a8322a" stroke-width="0.12" font-family="DejaVu Sans, Liberation Sans, sans-serif">Cu(111)</text>
<text transform="translate(272.00,273.00)" font-size="12.7" fill="#a8322a" stroke="#a8322a" stroke-width="0.1" font-family="DejaVu Serif, Liberation Serif, serif" font-style="italic">f</text>
<text transform="translate(276.90,275.40)" font-size="8.6" fill="#a8322a" stroke="#a8322a" stroke-width="0.2" font-family="DejaVu Serif, Liberation Serif, serif" font-style="italic">d</text>
<text transform="translate(283.10,273.00) scale(1,1.09)" font-size="12.2" fill="#a8322a" stroke="#a8322a" stroke-width="0.12" font-family="DejaVu Sans, Liberation Sans, sans-serif">:</text>
<text transform="translate(324.00,273.00) scale(1,1.09)" font-size="12.2" fill="#a8322a" text-anchor="end" stroke="#a8322a" stroke-width="0.12" font-family="DejaVu Sans, Liberation Sans, sans-serif">0.956</text>
<text transform="translate(53.00,242.00) scale(1,1.09)" font-size="12.2" fill="#c65a50" stroke="#c65a50" stroke-width="0.12" font-family="DejaVu Sans, Liberation Sans, sans-serif">Pd(100)</text>
<text transform="translate(272.00,242.00)" font-size="12.7" fill="#c65a50" stroke="#c65a50" stroke-width="0.1" font-family="DejaVu Serif, Liberation Serif, serif" font-style="italic">f</text>
<text transform="translate(276.90,244.40)" font-size="8.6" fill="#c65a50" stroke="#c65a50" stroke-width="0.2" font-family="DejaVu Serif, Liberation Serif, serif" font-style="italic">d</text>
<text transform="translate(283.10,242.00) scale(1,1.09)" font-size="12.2" fill="#c65a50" stroke="#c65a50" stroke-width="0.12" font-family="DejaVu Sans, Liberation Sans, sans-serif">:</text>
<text transform="translate(324.00,242.00) scale(1,1.09)" font-size="12.2" fill="#c65a50" text-anchor="end" stroke="#c65a50" stroke-width="0.12" font-family="DejaVu Sans, Liberation Sans, sans-serif">0.911</text>
<text transform="translate(53.00,211.00) scale(1,1.09)" font-size="12.2" fill="#d56c5d" stroke="#d56c5d" stroke-width="0.12" font-family="DejaVu Sans, Liberation Sans, sans-serif">Pd(111)</text>
<text transform="translate(272.00,211.00)" font-size="12.7" fill="#d56c5d" stroke="#d56c5d" stroke-width="0.1" font-family="DejaVu Serif, Liberation Serif, serif" font-style="italic">f</text>
<text transform="translate(276.90,213.40)" font-size="8.6" fill="#d56c5d" stroke="#d56c5d" stroke-width="0.2" font-family="DejaVu Serif, Liberation Serif, serif" font-style="italic">d</text>
<text transform="translate(283.10,211.00) scale(1,1.09)" font-size="12.2" fill="#d56c5d" stroke="#d56c5d" stroke-width="0.12" font-family="DejaVu Sans, Liberation Sans, sans-serif">:</text>
<text transform="translate(324.00,211.00) scale(1,1.09)" font-size="12.2" fill="#d56c5d" text-anchor="end" stroke="#d56c5d" stroke-width="0.12" font-family="DejaVu Sans, Liberation Sans, sans-serif">0.906</text>
<text transform="translate(53.00,180.00) scale(1,1.09)" font-size="12.2" fill="#a9bad6" stroke="#a9bad6" stroke-width="0.12" font-family="DejaVu Sans, Liberation Sans, sans-serif">Ni(100)</text>
<text transform="translate(272.00,179.00)" font-size="12.7" fill="#a9bad6" stroke="#a9bad6" stroke-width="0.1" font-family="DejaVu Serif, Liberation Serif, serif" font-style="italic">f</text>
<text transform="translate(276.90,181.40)" font-size="8.6" fill="#a9bad6" stroke="#a9bad6" stroke-width="0.2" font-family="DejaVu Serif, Liberation Serif, serif" font-style="italic">d</text>
<text transform="translate(283.10,179.00) scale(1,1.09)" font-size="12.2" fill="#a9bad6" stroke="#a9bad6" stroke-width="0.12" font-family="DejaVu Sans, Liberation Sans, sans-serif">:</text>
<text transform="translate(324.00,179.00) scale(1,1.09)" font-size="12.2" fill="#a9bad6" text-anchor="end" stroke="#a9bad6" stroke-width="0.12" font-family="DejaVu Sans, Liberation Sans, sans-serif">0.867</text>
<text transform="translate(53.00,149.00) scale(1,1.09)" font-size="12.2" fill="#a9bad6" stroke="#a9bad6" stroke-width="0.12" font-family="DejaVu Sans, Liberation Sans, sans-serif">Ni(111)</text>
<text transform="translate(272.00,148.00)" font-size="12.7" fill="#a9bad6" stroke="#a9bad6" stroke-width="0.1" font-family="DejaVu Serif, Liberation Serif, serif" font-style="italic">f</text>
<text transform="translate(276.90,150.40)" font-size="8.6" fill="#a9bad6" stroke="#a9bad6" stroke-width="0.2" font-family="DejaVu Serif, Liberation Serif, serif" font-style="italic">d</text>
<text transform="translate(283.10,148.00) scale(1,1.09)" font-size="12.2" fill="#a9bad6" stroke="#a9bad6" stroke-width="0.12" font-family="DejaVu Sans, Liberation Sans, sans-serif">:</text>
<text transform="translate(324.00,148.00) scale(1,1.09)" font-size="12.2" fill="#a9bad6" text-anchor="end" stroke="#a9bad6" stroke-width="0.12" font-family="DejaVu Sans, Liberation Sans, sans-serif">0.860</text>
<text transform="translate(53.00,115.00) scale(1,1.09)" font-size="12.2" fill="#9a989b" stroke="#9a989b" stroke-width="0.12" font-family="DejaVu Sans, Liberation Sans, sans-serif">Ru(0001)</text>
<text transform="translate(272.00,114.00)" font-size="12.7" fill="#9a989b" stroke="#9a989b" stroke-width="0.1" font-family="DejaVu Serif, Liberation Serif, serif" font-style="italic">f</text>
<text transform="translate(276.90,116.40)" font-size="8.6" fill="#9a989b" stroke="#9a989b" stroke-width="0.2" font-family="DejaVu Serif, Liberation Serif, serif" font-style="italic">d</text>
<text transform="translate(283.10,114.00) scale(1,1.09)" font-size="12.2" fill="#9a989b" stroke="#9a989b" stroke-width="0.12" font-family="DejaVu Sans, Liberation Sans, sans-serif">:</text>
<text transform="translate(324.00,114.00) scale(1,1.09)" font-size="12.2" fill="#9a989b" text-anchor="end" stroke="#9a989b" stroke-width="0.12" font-family="DejaVu Sans, Liberation Sans, sans-serif">0.711</text>
<text transform="translate(53.00,86.00) scale(1,1.09)" font-size="12.2" fill="#b4c5de" stroke="#b4c5de" stroke-width="0.12" font-family="DejaVu Sans, Liberation Sans, sans-serif">Rh(100)</text>
<text transform="translate(272.00,84.00)" font-size="12.7" fill="#b4c5de" stroke="#b4c5de" stroke-width="0.1" font-family="DejaVu Serif, Liberation Serif, serif" font-style="italic">f</text>
<text transform="translate(276.90,86.40)" font-size="8.6" fill="#b4c5de" stroke="#b4c5de" stroke-width="0.2" font-family="DejaVu Serif, Liberation Serif, serif" font-style="italic">d</text>
<text transform="translate(283.10,84.00) scale(1,1.09)" font-size="12.2" fill="#b4c5de" stroke="#b4c5de" stroke-width="0.12" font-family="DejaVu Sans, Liberation Sans, sans-serif">:</text>
<text transform="translate(324.00,84.00) scale(1,1.09)" font-size="12.2" fill="#b4c5de" text-anchor="end" stroke="#b4c5de" stroke-width="0.12" font-family="DejaVu Sans, Liberation Sans, sans-serif">0.794</text>
<text transform="translate(53.00,54.00) scale(1,1.09)" font-size="12.2" fill="#b4c5de" stroke="#b4c5de" stroke-width="0.12" font-family="DejaVu Sans, Liberation Sans, sans-serif">Rh(111)</text>
<text transform="translate(272.00,52.00)" font-size="12.7" fill="#b4c5de" stroke="#b4c5de" stroke-width="0.1" font-family="DejaVu Serif, Liberation Serif, serif" font-style="italic">f</text>
<text transform="translate(276.90,54.40)" font-size="8.6" fill="#b4c5de" stroke="#b4c5de" stroke-width="0.2" font-family="DejaVu Serif, Liberation Serif, serif" font-style="italic">d</text>
<text transform="translate(283.10,52.00) scale(1,1.09)" font-size="12.2" fill="#b4c5de" stroke="#b4c5de" stroke-width="0.12" font-family="DejaVu Sans, Liberation Sans, sans-serif">:</text>
<text transform="translate(324.00,52.00) scale(1,1.09)" font-size="12.2" fill="#b4c5de" text-anchor="end" stroke="#b4c5de" stroke-width="0.12" font-family="DejaVu Sans, Liberation Sans, sans-serif">0.789</text>
<clipPath id="cp1"><rect x="365.5" y="28.3" width="279.5" height="282.6"/></clipPath>
<clipPath id="cf1"><rect x="365.5" y="28.3" width="185.8" height="282.6"/></clipPath>
<g clip-path="url(#cf1)">
<path d="M364.8,311.0C383.2,310.9 401.6,310.9 420.0,310.8C424.1,310.7 428.2,310.6 432.3,310.4C435.0,310.2 437.7,310.0 440.4,309.5C442.5,309.2 444.5,308.6 446.6,308.0C447.9,307.7 449.3,307.3 450.7,306.8C452.0,306.3 453.4,305.4 454.7,304.8C456.1,304.2 457.5,303.8 458.8,303.2C460.2,302.7 461.6,302.2 462.9,301.6C463.9,301.2 465.0,300.5 466.0,300.2C467.0,299.8 468.0,299.7 469.0,299.3C470.1,299.0 471.1,298.4 472.1,297.9C472.8,297.6 473.5,296.8 474.2,296.7C475.0,296.5 475.9,297.0 476.8,297.1C477.8,297.2 478.7,297.5 479.7,297.5C480.6,297.5 481.4,297.4 482.3,297.1C483.2,296.8 484.1,296.4 485.0,295.7C485.8,295.0 486.6,293.9 487.4,293.0C488.3,292.2 489.1,291.1 489.9,290.6C490.6,290.1 491.3,290.1 491.9,289.9C492.6,289.8 493.3,290.0 494.0,289.5C494.7,289.0 495.3,287.8 496.0,286.9C496.7,285.9 497.4,284.6 498.1,283.8C498.7,283.1 499.4,282.3 500.0,282.4C500.8,282.5 501.6,284.0 502.5,284.4C503.1,284.8 503.8,285.0 504.5,284.8C505.2,284.7 505.9,283.9 506.5,283.4C507.4,282.7 508.3,281.7 509.2,281.2C510.1,280.6 511.0,280.2 511.9,279.9C512.5,279.7 513.2,279.5 513.9,279.7C514.6,279.9 515.3,281.2 515.9,281.2C516.5,281.2 517.0,280.6 517.6,279.7C518.1,278.8 518.7,277.0 519.2,275.6C519.8,274.3 520.3,272.5 520.8,271.5C521.4,270.6 521.9,269.9 522.5,270.1C523.0,270.3 523.6,271.0 524.1,272.6C524.6,273.9 525.1,276.1 525.5,278.7C526.0,281.3 526.5,285.2 527.0,287.9C527.5,291.0 528.1,293.9 528.6,296.1C529.2,298.3 529.7,300.0 530.2,301.2C530.9,302.7 531.6,303.5 532.3,304.3C533.2,305.4 534.2,306.3 535.2,306.8C536.7,307.7 538.3,308.2 539.9,308.5C542.2,309.1 544.6,309.3 547.0,309.5C550.4,309.9 553.8,310.1 557.2,310.2C565.4,310.4 573.6,310.5 581.7,310.6C602.9,310.7 624.0,310.7 645.1,310.8L645.1,311.0L364.8,311.0Z" fill="#9b1c14"/>
<path d="M364.8,276.4C383.2,276.4 401.6,276.4 420.0,276.2C423.4,276.2 426.8,276.0 430.2,275.8C432.9,275.6 435.7,275.3 438.4,274.9C440.4,274.5 442.5,273.8 444.5,273.3C446.2,272.9 447.9,272.6 449.6,272.0C450.7,271.6 451.7,270.9 452.7,270.1C453.5,269.5 454.3,268.5 455.2,267.9C456.0,267.2 456.9,266.7 457.8,266.4C458.8,266.2 459.9,266.5 460.9,266.4C461.9,266.4 462.9,266.5 463.9,266.0C464.8,265.6 465.7,264.7 466.6,264.0C467.4,263.3 468.2,262.3 469.0,261.9C469.7,261.6 470.4,261.6 471.1,261.7C471.9,261.9 472.7,262.5 473.5,263.0C474.4,263.4 475.3,264.1 476.2,264.4C476.9,264.6 477.6,264.7 478.2,264.4C478.9,264.1 479.6,263.5 480.3,262.8C480.9,262.0 481.6,260.9 482.3,259.9C483.3,258.5 484.3,257.4 485.3,255.7C486.2,254.2 487.0,252.2 487.9,250.5C488.6,249.3 489.2,247.8 489.9,247.0C490.4,246.3 490.9,245.9 491.5,245.9C492.0,245.9 492.5,246.3 493.0,247.0C493.5,247.7 494.0,249.1 494.5,250.0C495.0,251.0 495.5,251.9 496.1,252.6C496.6,253.3 497.1,253.8 497.6,254.1C498.3,254.6 499.0,254.6 499.6,254.8C500.5,255.1 501.3,255.6 502.2,255.5C502.9,255.3 503.6,255.0 504.2,254.1C504.7,253.5 505.3,252.0 505.8,251.1C506.3,250.2 506.8,249.3 507.3,248.7C507.8,248.1 508.3,247.9 508.8,247.7C509.5,247.4 510.2,247.4 510.9,247.3C511.6,247.2 512.2,247.1 512.9,247.0C513.6,246.8 514.3,246.8 515.0,246.5C515.5,246.2 516.0,246.0 516.5,245.4C516.9,245.0 517.4,244.1 517.8,243.4C518.2,242.7 518.6,241.8 519.0,241.3C519.5,240.9 519.9,240.5 520.3,240.5C520.7,240.6 521.2,240.9 521.6,241.9C521.9,242.6 522.3,244.0 522.6,245.4C523.0,246.9 523.3,248.8 523.6,250.5C524.0,252.2 524.3,254.1 524.7,255.7C525.0,257.0 525.3,258.0 525.5,259.3C526.0,261.3 526.5,264.0 527.0,265.4C527.7,267.4 528.3,268.6 529.0,269.5C529.9,270.7 530.8,271.1 531.7,271.5C533.0,272.2 534.4,272.6 535.8,273.0C537.5,273.4 539.2,273.8 540.9,274.0C544.3,274.5 547.7,274.8 551.1,275.0C557.9,275.4 564.7,275.7 571.5,275.8C596.1,276.2 620.6,276.1 645.1,276.2L645.1,276.6L364.8,276.6Z" fill="#b5443a"/>
<path d="M364.8,241.8C383.2,241.7 401.6,241.7 420.0,241.6C424.1,241.5 428.2,241.4 432.3,241.2C435.7,241.0 439.1,240.7 442.5,240.4C445.2,240.1 447.9,239.6 450.7,239.1C452.7,238.8 454.7,238.4 456.8,237.9C458.1,237.6 459.5,237.1 460.9,236.7C462.2,236.3 463.6,236.1 465.0,235.7C466.0,235.3 467.0,234.7 468.0,234.2C469.0,233.7 470.1,233.0 471.1,232.6C471.9,232.2 472.7,231.8 473.5,231.8C474.4,231.7 475.3,232.1 476.2,232.2C477.1,232.2 478.0,232.4 478.9,232.2C479.7,232.0 480.5,231.5 481.3,231.0C482.1,230.4 482.9,229.9 483.8,229.1C484.7,228.3 485.5,227.3 486.4,226.0C487.3,224.8 488.2,223.0 489.1,221.6C489.9,220.2 490.7,218.5 491.5,217.5C492.2,216.6 492.9,216.0 493.6,215.8C494.3,215.6 494.9,215.9 495.6,216.2C496.4,216.7 497.3,217.6 498.1,218.3C499.0,219.1 499.8,220.0 500.7,220.7C501.4,221.3 502.1,222.0 502.8,222.0C503.5,221.9 504.1,221.0 504.8,220.3C505.5,219.6 506.2,218.6 506.9,217.9C507.5,217.2 508.2,216.6 508.9,216.2C509.6,215.9 510.3,215.7 510.9,215.8C511.6,216.0 512.3,216.4 513.0,217.3C513.7,218.1 514.4,219.3 515.0,220.9C515.7,222.6 516.4,225.2 517.1,227.1C517.8,228.9 518.4,230.9 519.1,232.2C519.8,233.5 520.5,234.5 521.2,235.0C521.8,235.5 522.5,235.8 523.1,235.2C523.9,234.5 524.7,233.2 525.5,231.2C526.2,229.5 526.9,227.1 527.6,224.0C528.3,220.9 529.0,216.9 529.6,212.8C530.3,208.7 531.0,203.4 531.7,199.5C532.2,196.4 532.8,193.5 533.3,191.7C533.8,190.1 534.3,189.3 534.7,189.3C535.2,189.3 535.7,190.0 536.2,191.7C536.7,193.7 537.3,197.4 537.8,200.5C538.5,204.4 539.2,209.0 539.9,212.8C540.5,216.5 541.2,220.3 541.9,223.0C542.6,225.7 543.3,227.6 543.9,229.1C544.8,231.0 545.7,232.2 546.6,233.2C547.6,234.3 548.5,234.8 549.5,235.2C550.3,235.7 551.2,235.6 552.1,235.9C553.0,236.1 553.9,236.5 554.8,236.9C556.3,237.5 557.8,238.4 559.3,238.7C562.0,239.4 564.7,239.7 567.4,239.9C572.2,240.4 577.0,240.7 581.7,240.8C602.9,241.2 624.0,241.3 645.1,241.6L645.1,242.2L364.8,242.2Z" fill="#cc6458"/>
<path d="M364.8,207.2C383.2,207.2 401.6,207.2 420.0,207.0C424.1,207.0 428.2,206.9 432.3,206.6C435.7,206.4 439.1,206.2 442.5,205.8C445.2,205.5 447.9,205.2 450.7,204.8C452.7,204.5 454.7,204.0 456.8,203.6C458.1,203.3 459.5,203.0 460.9,202.8C462.2,202.5 463.6,202.5 465.0,202.1C466.3,201.8 467.7,201.1 469.0,200.5C470.1,200.0 471.1,199.3 472.1,198.9C473.0,198.5 473.9,198.0 474.8,197.8C475.7,197.6 476.7,197.7 477.6,197.6C478.7,197.6 479.8,197.8 480.9,197.6C481.9,197.5 482.8,197.2 483.8,196.8C484.9,196.4 485.9,195.7 487.0,195.0C488.2,194.2 489.4,193.3 490.5,192.3C491.5,191.5 492.6,190.5 493.6,189.7C494.6,188.8 495.6,188.0 496.6,187.2C497.7,186.5 498.7,185.8 499.7,185.2C500.5,184.7 501.3,184.3 502.2,183.7C502.8,183.3 503.5,182.8 504.2,182.1C504.9,181.4 505.6,180.4 506.2,179.7C506.9,178.9 507.6,178.2 508.3,177.8C508.8,177.5 509.4,177.2 509.9,177.4C510.6,177.6 511.3,178.1 512.0,179.0C512.6,180.0 513.3,181.5 514.0,183.1C514.7,184.8 515.4,187.0 516.1,188.9C516.7,190.7 517.4,192.7 518.1,194.4C518.8,196.1 519.5,197.9 520.1,199.1C520.8,200.3 521.5,201.0 522.2,201.5C522.7,201.9 523.3,202.2 523.8,201.9C524.5,201.6 525.2,201.2 525.9,199.9C526.5,198.6 527.2,196.7 527.9,194.4C528.6,192.1 529.3,189.3 530.0,186.2C530.9,182.1 531.8,178.4 532.7,172.9C533.2,170.1 533.6,165.0 534.1,161.1C534.6,157.2 535.1,152.7 535.5,149.8C535.8,148.0 536.1,147.0 536.4,147.0C536.7,147.0 537.0,147.9 537.4,149.8C537.9,152.6 538.4,157.2 538.9,161.1C539.4,165.0 539.9,169.5 540.5,172.9C541.1,177.5 541.8,181.8 542.5,185.2C543.2,188.6 543.9,191.3 544.6,193.3C545.4,195.8 546.2,197.3 547.0,198.5C548.0,199.9 549.0,200.5 550.1,201.1C551.0,201.7 551.8,201.5 552.7,201.9C553.5,202.3 554.4,203.2 555.2,203.6C556.5,204.2 557.9,204.7 559.3,205.0C562.0,205.5 564.7,205.6 567.4,205.8C572.2,206.1 577.0,206.4 581.7,206.4C602.9,206.8 624.0,206.8 645.1,207.0L645.1,207.6L364.8,207.6Z" fill="#e08878"/>
<path d="M364.8,172.6C383.2,172.5 401.6,172.6 420.0,172.4C423.4,172.3 426.8,172.2 430.2,172.0C433.6,171.7 437.0,171.4 440.4,170.9C443.2,170.6 445.9,170.2 448.6,169.7C450.7,169.3 452.7,168.8 454.7,168.3C456.8,167.8 458.8,167.5 460.9,166.9C462.6,166.3 464.3,165.5 466.0,164.8C467.3,164.3 468.7,163.7 470.1,163.2C471.1,162.8 472.1,162.4 473.1,162.2C474.2,161.9 475.2,161.8 476.2,161.8C477.2,161.7 478.2,161.9 479.3,161.8C480.3,161.6 481.3,161.5 482.3,161.1C483.4,160.8 484.4,160.1 485.4,159.5C486.8,158.7 488.1,158.0 489.5,157.0C490.8,156.1 492.2,155.1 493.6,154.0C494.9,152.9 496.3,151.4 497.7,150.3C498.7,149.5 499.7,148.9 500.7,148.5C501.7,148.0 502.8,147.8 503.8,147.4C504.8,147.1 505.8,146.8 506.9,146.4C507.7,146.1 508.6,145.7 509.5,145.6C510.4,145.5 511.2,145.3 512.0,145.7C512.7,146.0 513.4,146.7 514.1,147.7C514.8,148.7 515.4,150.3 516.1,151.8C516.8,153.2 517.5,154.9 518.2,156.4C518.9,157.8 519.5,159.3 520.2,160.5C520.8,161.5 521.4,162.4 522.1,163.0C522.5,163.4 522.9,163.6 523.3,163.5C523.8,163.5 524.3,163.3 524.8,162.8C525.3,162.3 525.8,161.6 526.3,160.5C526.9,159.4 527.4,157.8 527.9,156.4C528.4,154.9 528.9,153.3 529.4,151.8C529.9,150.3 530.4,148.6 530.9,147.2C531.5,145.8 532.0,144.5 532.5,143.6C533.0,142.7 533.5,142.2 534.0,141.8C534.4,141.5 534.7,141.3 535.0,141.4C535.5,141.4 535.9,141.6 536.4,142.1C536.8,142.5 537.2,143.2 537.6,144.1C538.1,145.3 538.6,146.8 539.1,148.2C539.6,149.7 540.1,151.4 540.7,152.8C541.2,154.3 541.7,155.7 542.2,156.9C542.7,158.1 543.2,159.1 543.7,160.0C544.2,160.9 544.7,161.7 545.3,162.3C545.9,163.2 546.6,163.8 547.3,164.4C548.1,165.0 549.0,165.4 549.9,165.8C550.9,166.3 551.9,166.7 552.9,167.1C554.3,167.6 555.6,168.1 557.0,168.5C558.4,168.8 559.7,169.2 561.1,169.4C563.1,169.7 565.2,169.9 567.2,170.1C569.3,170.3 571.3,170.4 573.4,170.5C575.6,170.6 577.8,170.8 580.0,170.9C580.6,170.9 581.2,170.9 581.7,170.9C588.6,171.1 595.4,171.4 602.2,171.6C616.5,171.8 630.8,172.0 645.1,172.2L645.1,173.2L364.8,173.2Z" fill="#a9b6cc"/>
<path d="M364.8,138.2C383.2,138.2 401.6,138.2 420.0,138.0C423.4,138.0 426.8,137.9 430.2,137.6C433.6,137.4 437.0,137.1 440.4,136.6C443.2,136.2 445.9,135.8 448.6,135.2C450.0,134.9 451.3,134.5 452.7,134.0C453.7,133.6 454.7,133.0 455.8,132.5C456.8,132.0 457.8,131.4 458.8,131.1C459.9,130.8 460.9,130.7 461.9,130.5C462.9,130.3 463.9,130.4 465.0,130.1C466.0,129.7 467.0,129.0 468.0,128.4C468.9,128.0 469.8,127.3 470.7,127.0C471.4,126.8 472.0,126.7 472.7,126.8C473.5,126.9 474.4,127.4 475.2,127.6C476.0,127.9 476.8,128.2 477.6,128.2C478.3,128.3 479.0,128.3 479.7,128.0C480.6,127.7 481.4,127.1 482.3,126.4C483.2,125.7 484.1,125.0 485.0,123.9C485.8,123.0 486.6,121.6 487.4,120.3C488.3,118.9 489.1,117.2 489.9,115.8C490.6,114.6 491.3,113.3 491.9,112.5C492.5,111.8 493.0,111.3 493.6,111.3C494.1,111.2 494.7,111.6 495.2,112.1C496.0,112.8 496.8,113.9 497.7,114.7C498.4,115.6 499.2,116.5 500.0,117.2C500.8,118.0 501.6,119.3 502.5,119.2C503.3,119.1 504.2,117.6 505.1,116.6C506.0,115.6 506.9,113.9 507.8,113.1C508.6,112.4 509.4,112.1 510.2,112.1C511.0,112.1 511.9,112.2 512.7,112.9C513.4,113.5 514.0,114.8 514.7,116.2C515.4,117.6 516.1,119.6 516.8,121.3C517.4,123.0 518.1,125.0 518.8,126.4C519.5,127.8 520.2,129.2 520.8,129.9C521.5,130.5 522.2,130.8 522.9,130.5C523.6,130.2 524.3,129.4 524.9,128.0C525.6,126.7 526.3,124.3 527.0,122.3C527.7,120.3 528.3,117.9 529.0,116.2C529.7,114.4 530.4,112.7 531.1,111.7C531.7,110.7 532.4,110.1 533.1,110.0C533.8,109.9 534.5,110.2 535.2,111.1C535.8,111.9 536.5,113.6 537.2,115.2C537.9,116.7 538.6,118.7 539.2,120.3C540.1,122.3 541.0,124.5 541.9,126.0C542.8,127.5 543.7,128.6 544.6,129.5C545.7,130.6 546.9,131.3 548.0,131.9C549.4,132.6 550.8,133.2 552.1,133.5C553.5,133.9 554.8,134.0 556.2,134.0C556.9,133.9 557.6,133.4 558.2,133.1C558.9,132.8 559.6,132.2 560.3,132.1C561.0,132.1 561.7,132.6 562.3,132.9C563.2,133.4 564.1,134.2 565.0,134.6C566.1,135.1 567.3,135.4 568.5,135.6C570.2,135.8 571.9,135.8 573.6,135.8C574.9,135.8 576.3,135.3 577.7,135.4C579.0,135.5 580.4,136.1 581.7,136.2C585.2,136.5 588.6,136.7 592.0,136.8C598.8,137.1 605.6,137.3 612.4,137.4C623.3,137.7 634.2,137.8 645.1,138.0L645.1,138.6L364.8,138.6Z" fill="#b8c4d8"/>
<path d="M364.8,103.2C383.2,103.1 401.6,103.2 420.0,103.0C423.4,103.0 426.8,102.8 430.2,102.6C433.6,102.4 437.0,102.1 440.4,101.8C443.2,101.5 445.9,101.0 448.6,100.5C450.3,100.2 452.0,99.7 453.7,99.3C455.1,99.0 456.4,98.6 457.8,98.3C459.2,97.9 460.5,97.6 461.9,97.3C463.3,96.9 464.6,96.7 466.0,96.2C467.0,95.9 468.0,95.2 469.0,94.8C470.1,94.4 471.1,94.2 472.1,93.8C473.0,93.4 473.9,92.7 474.8,92.6C475.6,92.4 476.4,92.7 477.2,92.8C478.2,92.9 479.3,93.2 480.3,93.2C481.3,93.2 482.3,93.2 483.4,92.8C484.2,92.5 485.0,91.8 485.8,91.1C486.7,90.4 487.6,89.5 488.5,88.7C489.4,87.9 490.2,87.0 491.1,86.4C491.9,85.9 492.8,85.7 493.6,85.4C494.4,85.1 495.2,85.3 496.0,84.6C496.7,84.0 497.4,82.4 498.1,81.3C498.7,80.3 499.4,78.9 500.0,78.5C500.7,78.0 501.4,78.9 502.0,78.9C502.7,78.8 503.4,78.4 504.1,78.1C504.9,77.6 505.7,76.7 506.5,76.4C507.4,76.1 508.3,75.9 509.2,76.0C509.9,76.1 510.6,76.4 511.2,76.8C511.9,77.3 512.6,77.9 513.3,78.9C514.0,79.8 514.6,81.0 515.3,82.6C516.0,84.1 516.7,86.2 517.4,88.1C518.1,89.9 518.7,92.0 519.4,93.6C520.1,95.2 520.8,96.7 521.5,97.7C522.1,98.6 522.8,99.1 523.5,99.3C524.4,99.5 525.3,99.2 526.2,98.9C527.1,98.6 528.1,97.8 529.0,97.3C529.9,96.7 530.8,96.5 531.7,95.6C532.4,95.0 533.0,94.2 533.7,92.8C534.3,91.7 534.8,89.9 535.4,88.1C535.9,86.3 536.4,83.7 537.0,81.9C537.6,80.0 538.2,78.1 538.8,76.8C539.4,75.7 539.9,75.1 540.5,74.8C541.0,74.5 541.6,74.6 542.1,75.2C542.6,75.8 543.2,77.2 543.7,78.5C544.3,79.8 545.0,81.5 545.6,83.0C546.3,84.6 546.9,86.4 547.6,87.7C548.4,89.2 549.3,90.5 550.1,91.5C550.8,92.4 551.4,93.2 552.1,93.6C553.0,94.1 553.9,94.2 554.8,94.4C555.6,94.6 556.4,94.4 557.2,94.8C558.0,95.2 558.9,96.2 559.7,96.9C560.6,97.5 561.4,98.2 562.3,98.7C563.4,99.2 564.4,99.6 565.4,99.9C567.1,100.4 568.8,100.7 570.5,100.9C574.3,101.4 578.0,101.8 581.7,102.0C588.6,102.4 595.4,102.7 602.2,102.8C616.5,103.1 630.8,103.1 645.1,103.2L645.1,103.8L364.8,103.8Z" fill="#c5d2e4"/>
<path d="M364.8,68.9C383.2,68.8 401.6,68.8 420.0,68.7C423.4,68.6 426.8,68.5 430.2,68.2C433.6,68.0 437.0,67.6 440.4,67.2C443.2,66.9 445.9,66.5 448.6,66.0C450.0,65.7 451.3,65.4 452.7,65.0C453.7,64.6 454.7,64.0 455.8,63.5C456.8,63.1 457.8,62.6 458.8,62.3C459.9,62.0 460.9,62.0 461.9,61.9C462.9,61.8 463.9,62.0 465.0,61.7C466.0,61.4 467.0,60.7 468.0,60.1C468.9,59.6 469.8,58.8 470.7,58.4C471.4,58.2 472.0,58.2 472.7,58.2C473.5,58.3 474.4,58.7 475.2,58.8C476.0,59.0 476.8,59.3 477.6,59.3C478.3,59.3 479.0,59.2 479.7,58.8C480.6,58.4 481.4,57.7 482.3,57.0C483.2,56.3 484.1,55.8 485.0,54.8C485.7,53.9 486.4,52.7 487.0,51.3C487.7,49.9 488.4,47.7 489.1,46.2C489.6,44.9 490.2,43.7 490.7,42.9C491.2,42.2 491.7,41.9 492.1,41.9C492.6,41.8 493.1,42.3 493.6,42.7C494.3,43.3 494.9,44.4 495.6,45.2C496.4,46.0 497.3,46.6 498.1,47.4C498.7,48.0 499.4,48.8 500.0,49.2C500.8,49.9 501.6,50.8 502.5,50.7C503.1,50.6 503.8,49.4 504.5,48.6C505.2,47.9 505.9,46.7 506.5,46.2C507.4,45.5 508.3,45.1 509.2,44.9C510.1,44.8 511.0,45.1 511.9,45.6C512.5,45.9 513.2,46.5 513.9,47.6C514.4,48.5 515.0,49.8 515.5,51.3C516.1,52.9 516.8,55.2 517.4,56.8C518.1,58.6 518.7,60.3 519.4,61.5C520.1,62.7 520.8,63.6 521.5,64.2C522.1,64.7 522.8,64.8 523.5,64.8C524.4,64.7 525.3,64.5 526.2,64.0C527.1,63.4 528.1,62.5 529.0,61.5C530.1,60.3 531.2,58.8 532.3,57.4C533.2,56.2 534.2,55.0 535.2,53.9C536.0,53.0 536.9,52.3 537.8,51.3C538.6,50.3 539.4,48.7 540.3,47.8C540.9,47.0 541.6,46.4 542.3,46.2C542.9,46.0 543.4,46.1 543.9,46.6C544.5,47.1 545.0,48.0 545.6,49.2C546.2,50.6 546.8,52.7 547.4,54.3C548.0,55.8 548.5,57.5 549.0,58.4C549.7,59.6 550.4,60.3 551.1,60.9C552.1,61.7 553.1,62.1 554.2,62.5C555.5,63.1 556.9,63.4 558.2,63.8C559.9,64.2 561.7,64.6 563.4,65.0C565.1,65.3 566.8,65.6 568.5,65.9C569.8,66.1 571.2,66.4 572.6,66.4C573.9,66.4 575.3,65.7 576.6,65.7C577.7,65.7 578.7,66.1 579.7,66.2C581.7,66.5 583.8,66.8 585.8,66.9C591.3,67.3 596.7,67.5 602.2,67.6C609.0,67.9 615.8,68.1 622.6,68.2C630.1,68.3 637.6,68.3 645.1,68.4L645.1,69.5L364.8,69.5Z" fill="#d5dfec"/>
</g>
<g clip-path="url(#cp1)" fill="none" stroke="#000" stroke-width="2.0" stroke-linejoin="round">
<path d="M364.8,311.0C383.2,310.9 401.6,310.9 420.0,310.8C424.1,310.7 428.2,310.6 432.3,310.4C435.0,310.2 437.7,310.0 440.4,309.5C442.5,309.2 444.5,308.6 446.6,308.0C447.9,307.7 449.3,307.3 450.7,306.8C452.0,306.3 453.4,305.4 454.7,304.8C456.1,304.2 457.5,303.8 458.8,303.2C460.2,302.7 461.6,302.2 462.9,301.6C463.9,301.2 465.0,300.5 466.0,300.2C467.0,299.8 468.0,299.7 469.0,299.3C470.1,299.0 471.1,298.4 472.1,297.9C472.8,297.6 473.5,296.8 474.2,296.7C475.0,296.5 475.9,297.0 476.8,297.1C477.8,297.2 478.7,297.5 479.7,297.5C480.6,297.5 481.4,297.4 482.3,297.1C483.2,296.8 484.1,296.4 485.0,295.7C485.8,295.0 486.6,293.9 487.4,293.0C488.3,292.2 489.1,291.1 489.9,290.6C490.6,290.1 491.3,290.1 491.9,289.9C492.6,289.8 493.3,290.0 494.0,289.5C494.7,289.0 495.3,287.8 496.0,286.9C496.7,285.9 497.4,284.6 498.1,283.8C498.7,283.1 499.4,282.3 500.0,282.4C500.8,282.5 501.6,284.0 502.5,284.4C503.1,284.8 503.8,285.0 504.5,284.8C505.2,284.7 505.9,283.9 506.5,283.4C507.4,282.7 508.3,281.7 509.2,281.2C510.1,280.6 511.0,280.2 511.9,279.9C512.5,279.7 513.2,279.5 513.9,279.7C514.6,279.9 515.3,281.2 515.9,281.2C516.5,281.2 517.0,280.6 517.6,279.7C518.1,278.8 518.7,277.0 519.2,275.6C519.8,274.3 520.3,272.5 520.8,271.5C521.4,270.6 521.9,269.9 522.5,270.1C523.0,270.3 523.6,271.0 524.1,272.6C524.6,273.9 525.1,276.1 525.5,278.7C526.0,281.3 526.5,285.2 527.0,287.9C527.5,291.0 528.1,293.9 528.6,296.1C529.2,298.3 529.7,300.0 530.2,301.2C530.9,302.7 531.6,303.5 532.3,304.3C533.2,305.4 534.2,306.3 535.2,306.8C536.7,307.7 538.3,308.2 539.9,308.5C542.2,309.1 544.6,309.3 547.0,309.5C550.4,309.9 553.8,310.1 557.2,310.2C565.4,310.4 573.6,310.5 581.7,310.6C602.9,310.7 624.0,310.7 645.1,310.8"/>
<path d="M364.8,276.4C383.2,276.4 401.6,276.4 420.0,276.2C423.4,276.2 426.8,276.0 430.2,275.8C432.9,275.6 435.7,275.3 438.4,274.9C440.4,274.5 442.5,273.8 444.5,273.3C446.2,272.9 447.9,272.6 449.6,272.0C450.7,271.6 451.7,270.9 452.7,270.1C453.5,269.5 454.3,268.5 455.2,267.9C456.0,267.2 456.9,266.7 457.8,266.4C458.8,266.2 459.9,266.5 460.9,266.4C461.9,266.4 462.9,266.5 463.9,266.0C464.8,265.6 465.7,264.7 466.6,264.0C467.4,263.3 468.2,262.3 469.0,261.9C469.7,261.6 470.4,261.6 471.1,261.7C471.9,261.9 472.7,262.5 473.5,263.0C474.4,263.4 475.3,264.1 476.2,264.4C476.9,264.6 477.6,264.7 478.2,264.4C478.9,264.1 479.6,263.5 480.3,262.8C480.9,262.0 481.6,260.9 482.3,259.9C483.3,258.5 484.3,257.4 485.3,255.7C486.2,254.2 487.0,252.2 487.9,250.5C488.6,249.3 489.2,247.8 489.9,247.0C490.4,246.3 490.9,245.9 491.5,245.9C492.0,245.9 492.5,246.3 493.0,247.0C493.5,247.7 494.0,249.1 494.5,250.0C495.0,251.0 495.5,251.9 496.1,252.6C496.6,253.3 497.1,253.8 497.6,254.1C498.3,254.6 499.0,254.6 499.6,254.8C500.5,255.1 501.3,255.6 502.2,255.5C502.9,255.3 503.6,255.0 504.2,254.1C504.7,253.5 505.3,252.0 505.8,251.1C506.3,250.2 506.8,249.3 507.3,248.7C507.8,248.1 508.3,247.9 508.8,247.7C509.5,247.4 510.2,247.4 510.9,247.3C511.6,247.2 512.2,247.1 512.9,247.0C513.6,246.8 514.3,246.8 515.0,246.5C515.5,246.2 516.0,246.0 516.5,245.4C516.9,245.0 517.4,244.1 517.8,243.4C518.2,242.7 518.6,241.8 519.0,241.3C519.5,240.9 519.9,240.5 520.3,240.5C520.7,240.6 521.2,240.9 521.6,241.9C521.9,242.6 522.3,244.0 522.6,245.4C523.0,246.9 523.3,248.8 523.6,250.5C524.0,252.2 524.3,254.1 524.7,255.7C525.0,257.0 525.3,258.0 525.5,259.3C526.0,261.3 526.5,264.0 527.0,265.4C527.7,267.4 528.3,268.6 529.0,269.5C529.9,270.7 530.8,271.1 531.7,271.5C533.0,272.2 534.4,272.6 535.8,273.0C537.5,273.4 539.2,273.8 540.9,274.0C544.3,274.5 547.7,274.8 551.1,275.0C557.9,275.4 564.7,275.7 571.5,275.8C596.1,276.2 620.6,276.1 645.1,276.2"/>
<path d="M364.8,241.8C383.2,241.7 401.6,241.7 420.0,241.6C424.1,241.5 428.2,241.4 432.3,241.2C435.7,241.0 439.1,240.7 442.5,240.4C445.2,240.1 447.9,239.6 450.7,239.1C452.7,238.8 454.7,238.4 456.8,237.9C458.1,237.6 459.5,237.1 460.9,236.7C462.2,236.3 463.6,236.1 465.0,235.7C466.0,235.3 467.0,234.7 468.0,234.2C469.0,233.7 470.1,233.0 471.1,232.6C471.9,232.2 472.7,231.8 473.5,231.8C474.4,231.7 475.3,232.1 476.2,232.2C477.1,232.2 478.0,232.4 478.9,232.2C479.7,232.0 480.5,231.5 481.3,231.0C482.1,230.4 482.9,229.9 483.8,229.1C484.7,228.3 485.5,227.3 486.4,226.0C487.3,224.8 488.2,223.0 489.1,221.6C489.9,220.2 490.7,218.5 491.5,217.5C492.2,216.6 492.9,216.0 493.6,215.8C494.3,215.6 494.9,215.9 495.6,216.2C496.4,216.7 497.3,217.6 498.1,218.3C499.0,219.1 499.8,220.0 500.7,220.7C501.4,221.3 502.1,222.0 502.8,222.0C503.5,221.9 504.1,221.0 504.8,220.3C505.5,219.6 506.2,218.6 506.9,217.9C507.5,217.2 508.2,216.6 508.9,216.2C509.6,215.9 510.3,215.7 510.9,215.8C511.6,216.0 512.3,216.4 513.0,217.3C513.7,218.1 514.4,219.3 515.0,220.9C515.7,222.6 516.4,225.2 517.1,227.1C517.8,228.9 518.4,230.9 519.1,232.2C519.8,233.5 520.5,234.5 521.2,235.0C521.8,235.5 522.5,235.8 523.1,235.2C523.9,234.5 524.7,233.2 525.5,231.2C526.2,229.5 526.9,227.1 527.6,224.0C528.3,220.9 529.0,216.9 529.6,212.8C530.3,208.7 531.0,203.4 531.7,199.5C532.2,196.4 532.8,193.5 533.3,191.7C533.8,190.1 534.3,189.3 534.7,189.3C535.2,189.3 535.7,190.0 536.2,191.7C536.7,193.7 537.3,197.4 537.8,200.5C538.5,204.4 539.2,209.0 539.9,212.8C540.5,216.5 541.2,220.3 541.9,223.0C542.6,225.7 543.3,227.6 543.9,229.1C544.8,231.0 545.7,232.2 546.6,233.2C547.6,234.3 548.5,234.8 549.5,235.2C550.3,235.7 551.2,235.6 552.1,235.9C553.0,236.1 553.9,236.5 554.8,236.9C556.3,237.5 557.8,238.4 559.3,238.7C562.0,239.4 564.7,239.7 567.4,239.9C572.2,240.4 577.0,240.7 581.7,240.8C602.9,241.2 624.0,241.3 645.1,241.6"/>
<path d="M364.8,207.2C383.2,207.2 401.6,207.2 420.0,207.0C424.1,207.0 428.2,206.9 432.3,206.6C435.7,206.4 439.1,206.2 442.5,205.8C445.2,205.5 447.9,205.2 450.7,204.8C452.7,204.5 454.7,204.0 456.8,203.6C458.1,203.3 459.5,203.0 460.9,202.8C462.2,202.5 463.6,202.5 465.0,202.1C466.3,201.8 467.7,201.1 469.0,200.5C470.1,200.0 471.1,199.3 472.1,198.9C473.0,198.5 473.9,198.0 474.8,197.8C475.7,197.6 476.7,197.7 477.6,197.6C478.7,197.6 479.8,197.8 480.9,197.6C481.9,197.5 482.8,197.2 483.8,196.8C484.9,196.4 485.9,195.7 487.0,195.0C488.2,194.2 489.4,193.3 490.5,192.3C491.5,191.5 492.6,190.5 493.6,189.7C494.6,188.8 495.6,188.0 496.6,187.2C497.7,186.5 498.7,185.8 499.7,185.2C500.5,184.7 501.3,184.3 502.2,183.7C502.8,183.3 503.5,182.8 504.2,182.1C504.9,181.4 505.6,180.4 506.2,179.7C506.9,178.9 507.6,178.2 508.3,177.8C508.8,177.5 509.4,177.2 509.9,177.4C510.6,177.6 511.3,178.1 512.0,179.0C512.6,180.0 513.3,181.5 514.0,183.1C514.7,184.8 515.4,187.0 516.1,188.9C516.7,190.7 517.4,192.7 518.1,194.4C518.8,196.1 519.5,197.9 520.1,199.1C520.8,200.3 521.5,201.0 522.2,201.5C522.7,201.9 523.3,202.2 523.8,201.9C524.5,201.6 525.2,201.2 525.9,199.9C526.5,198.6 527.2,196.7 527.9,194.4C528.6,192.1 529.3,189.3 530.0,186.2C530.9,182.1 531.8,178.4 532.7,172.9C533.2,170.1 533.6,165.0 534.1,161.1C534.6,157.2 535.1,152.7 535.5,149.8C535.8,148.0 536.1,147.0 536.4,147.0C536.7,147.0 537.0,147.9 537.4,149.8C537.9,152.6 538.4,157.2 538.9,161.1C539.4,165.0 539.9,169.5 540.5,172.9C541.1,177.5 541.8,181.8 542.5,185.2C543.2,188.6 543.9,191.3 544.6,193.3C545.4,195.8 546.2,197.3 547.0,198.5C548.0,199.9 549.0,200.5 550.1,201.1C551.0,201.7 551.8,201.5 552.7,201.9C553.5,202.3 554.4,203.2 555.2,203.6C556.5,204.2 557.9,204.7 559.3,205.0C562.0,205.5 564.7,205.6 567.4,205.8C572.2,206.1 577.0,206.4 581.7,206.4C602.9,206.8 624.0,206.8 645.1,207.0"/>
<path d="M364.8,172.6C383.2,172.5 401.6,172.6 420.0,172.4C423.4,172.3 426.8,172.2 430.2,172.0C433.6,171.7 437.0,171.4 440.4,170.9C443.2,170.6 445.9,170.2 448.6,169.7C450.7,169.3 452.7,168.8 454.7,168.3C456.8,167.8 458.8,167.5 460.9,166.9C462.6,166.3 464.3,165.5 466.0,164.8C467.3,164.3 468.7,163.7 470.1,163.2C471.1,162.8 472.1,162.4 473.1,162.2C474.2,161.9 475.2,161.8 476.2,161.8C477.2,161.7 478.2,161.9 479.3,161.8C480.3,161.6 481.3,161.5 482.3,161.1C483.4,160.8 484.4,160.1 485.4,159.5C486.8,158.7 488.1,158.0 489.5,157.0C490.8,156.1 492.2,155.1 493.6,154.0C494.9,152.9 496.3,151.4 497.7,150.3C498.7,149.5 499.7,148.9 500.7,148.5C501.7,148.0 502.8,147.8 503.8,147.4C504.8,147.1 505.8,146.8 506.9,146.4C507.7,146.1 508.6,145.7 509.5,145.6C510.4,145.5 511.2,145.3 512.0,145.7C512.7,146.0 513.4,146.7 514.1,147.7C514.8,148.7 515.4,150.3 516.1,151.8C516.8,153.2 517.5,154.9 518.2,156.4C518.9,157.8 519.5,159.3 520.2,160.5C520.8,161.5 521.4,162.4 522.1,163.0C522.5,163.4 522.9,163.6 523.3,163.5C523.8,163.5 524.3,163.3 524.8,162.8C525.3,162.3 525.8,161.6 526.3,160.5C526.9,159.4 527.4,157.8 527.9,156.4C528.4,154.9 528.9,153.3 529.4,151.8C529.9,150.3 530.4,148.6 530.9,147.2C531.5,145.8 532.0,144.5 532.5,143.6C533.0,142.7 533.5,142.2 534.0,141.8C534.4,141.5 534.7,141.3 535.0,141.4C535.5,141.4 535.9,141.6 536.4,142.1C536.8,142.5 537.2,143.2 537.6,144.1C538.1,145.3 538.6,146.8 539.1,148.2C539.6,149.7 540.1,151.4 540.7,152.8C541.2,154.3 541.7,155.7 542.2,156.9C542.7,158.1 543.2,159.1 543.7,160.0C544.2,160.9 544.7,161.7 545.3,162.3C545.9,163.2 546.6,163.8 547.3,164.4C548.1,165.0 549.0,165.4 549.9,165.8C550.9,166.3 551.9,166.7 552.9,167.1C554.3,167.6 555.6,168.1 557.0,168.5C558.4,168.8 559.7,169.2 561.1,169.4C563.1,169.7 565.2,169.9 567.2,170.1C569.3,170.3 571.3,170.4 573.4,170.5C575.6,170.6 577.8,170.8 580.0,170.9C580.6,170.9 581.2,170.9 581.7,170.9C588.6,171.1 595.4,171.4 602.2,171.6C616.5,171.8 630.8,172.0 645.1,172.2"/>
<path d="M364.8,138.2C383.2,138.2 401.6,138.2 420.0,138.0C423.4,138.0 426.8,137.9 430.2,137.6C433.6,137.4 437.0,137.1 440.4,136.6C443.2,136.2 445.9,135.8 448.6,135.2C450.0,134.9 451.3,134.5 452.7,134.0C453.7,133.6 454.7,133.0 455.8,132.5C456.8,132.0 457.8,131.4 458.8,131.1C459.9,130.8 460.9,130.7 461.9,130.5C462.9,130.3 463.9,130.4 465.0,130.1C466.0,129.7 467.0,129.0 468.0,128.4C468.9,128.0 469.8,127.3 470.7,127.0C471.4,126.8 472.0,126.7 472.7,126.8C473.5,126.9 474.4,127.4 475.2,127.6C476.0,127.9 476.8,128.2 477.6,128.2C478.3,128.3 479.0,128.3 479.7,128.0C480.6,127.7 481.4,127.1 482.3,126.4C483.2,125.7 484.1,125.0 485.0,123.9C485.8,123.0 486.6,121.6 487.4,120.3C488.3,118.9 489.1,117.2 489.9,115.8C490.6,114.6 491.3,113.3 491.9,112.5C492.5,111.8 493.0,111.3 493.6,111.3C494.1,111.2 494.7,111.6 495.2,112.1C496.0,112.8 496.8,113.9 497.7,114.7C498.4,115.6 499.2,116.5 500.0,117.2C500.8,118.0 501.6,119.3 502.5,119.2C503.3,119.1 504.2,117.6 505.1,116.6C506.0,115.6 506.9,113.9 507.8,113.1C508.6,112.4 509.4,112.1 510.2,112.1C511.0,112.1 511.9,112.2 512.7,112.9C513.4,113.5 514.0,114.8 514.7,116.2C515.4,117.6 516.1,119.6 516.8,121.3C517.4,123.0 518.1,125.0 518.8,126.4C519.5,127.8 520.2,129.2 520.8,129.9C521.5,130.5 522.2,130.8 522.9,130.5C523.6,130.2 524.3,129.4 524.9,128.0C525.6,126.7 526.3,124.3 527.0,122.3C527.7,120.3 528.3,117.9 529.0,116.2C529.7,114.4 530.4,112.7 531.1,111.7C531.7,110.7 532.4,110.1 533.1,110.0C533.8,109.9 534.5,110.2 535.2,111.1C535.8,111.9 536.5,113.6 537.2,115.2C537.9,116.7 538.6,118.7 539.2,120.3C540.1,122.3 541.0,124.5 541.9,126.0C542.8,127.5 543.7,128.6 544.6,129.5C545.7,130.6 546.9,131.3 548.0,131.9C549.4,132.6 550.8,133.2 552.1,133.5C553.5,133.9 554.8,134.0 556.2,134.0C556.9,133.9 557.6,133.4 558.2,133.1C558.9,132.8 559.6,132.2 560.3,132.1C561.0,132.1 561.7,132.6 562.3,132.9C563.2,133.4 564.1,134.2 565.0,134.6C566.1,135.1 567.3,135.4 568.5,135.6C570.2,135.8 571.9,135.8 573.6,135.8C574.9,135.8 576.3,135.3 577.7,135.4C579.0,135.5 580.4,136.1 581.7,136.2C585.2,136.5 588.6,136.7 592.0,136.8C598.8,137.1 605.6,137.3 612.4,137.4C623.3,137.7 634.2,137.8 645.1,138.0"/>
<path d="M364.8,103.2C383.2,103.1 401.6,103.2 420.0,103.0C423.4,103.0 426.8,102.8 430.2,102.6C433.6,102.4 437.0,102.1 440.4,101.8C443.2,101.5 445.9,101.0 448.6,100.5C450.3,100.2 452.0,99.7 453.7,99.3C455.1,99.0 456.4,98.6 457.8,98.3C459.2,97.9 460.5,97.6 461.9,97.3C463.3,96.9 464.6,96.7 466.0,96.2C467.0,95.9 468.0,95.2 469.0,94.8C470.1,94.4 471.1,94.2 472.1,93.8C473.0,93.4 473.9,92.7 474.8,92.6C475.6,92.4 476.4,92.7 477.2,92.8C478.2,92.9 479.3,93.2 480.3,93.2C481.3,93.2 482.3,93.2 483.4,92.8C484.2,92.5 485.0,91.8 485.8,91.1C486.7,90.4 487.6,89.5 488.5,88.7C489.4,87.9 490.2,87.0 491.1,86.4C491.9,85.9 492.8,85.7 493.6,85.4C494.4,85.1 495.2,85.3 496.0,84.6C496.7,84.0 497.4,82.4 498.1,81.3C498.7,80.3 499.4,78.9 500.0,78.5C500.7,78.0 501.4,78.9 502.0,78.9C502.7,78.8 503.4,78.4 504.1,78.1C504.9,77.6 505.7,76.7 506.5,76.4C507.4,76.1 508.3,75.9 509.2,76.0C509.9,76.1 510.6,76.4 511.2,76.8C511.9,77.3 512.6,77.9 513.3,78.9C514.0,79.8 514.6,81.0 515.3,82.6C516.0,84.1 516.7,86.2 517.4,88.1C518.1,89.9 518.7,92.0 519.4,93.6C520.1,95.2 520.8,96.7 521.5,97.7C522.1,98.6 522.8,99.1 523.5,99.3C524.4,99.5 525.3,99.2 526.2,98.9C527.1,98.6 528.1,97.8 529.0,97.3C529.9,96.7 530.8,96.5 531.7,95.6C532.4,95.0 533.0,94.2 533.7,92.8C534.3,91.7 534.8,89.9 535.4,88.1C535.9,86.3 536.4,83.7 537.0,81.9C537.6,80.0 538.2,78.1 538.8,76.8C539.4,75.7 539.9,75.1 540.5,74.8C541.0,74.5 541.6,74.6 542.1,75.2C542.6,75.8 543.2,77.2 543.7,78.5C544.3,79.8 545.0,81.5 545.6,83.0C546.3,84.6 546.9,86.4 547.6,87.7C548.4,89.2 549.3,90.5 550.1,91.5C550.8,92.4 551.4,93.2 552.1,93.6C553.0,94.1 553.9,94.2 554.8,94.4C555.6,94.6 556.4,94.4 557.2,94.8C558.0,95.2 558.9,96.2 559.7,96.9C560.6,97.5 561.4,98.2 562.3,98.7C563.4,99.2 564.4,99.6 565.4,99.9C567.1,100.4 568.8,100.7 570.5,100.9C574.3,101.4 578.0,101.8 581.7,102.0C588.6,102.4 595.4,102.7 602.2,102.8C616.5,103.1 630.8,103.1 645.1,103.2"/>
<path d="M364.8,68.9C383.2,68.8 401.6,68.8 420.0,68.7C423.4,68.6 426.8,68.5 430.2,68.2C433.6,68.0 437.0,67.6 440.4,67.2C443.2,66.9 445.9,66.5 448.6,66.0C450.0,65.7 451.3,65.4 452.7,65.0C453.7,64.6 454.7,64.0 455.8,63.5C456.8,63.1 457.8,62.6 458.8,62.3C459.9,62.0 460.9,62.0 461.9,61.9C462.9,61.8 463.9,62.0 465.0,61.7C466.0,61.4 467.0,60.7 468.0,60.1C468.9,59.6 469.8,58.8 470.7,58.4C471.4,58.2 472.0,58.2 472.7,58.2C473.5,58.3 474.4,58.7 475.2,58.8C476.0,59.0 476.8,59.3 477.6,59.3C478.3,59.3 479.0,59.2 479.7,58.8C480.6,58.4 481.4,57.7 482.3,57.0C483.2,56.3 484.1,55.8 485.0,54.8C485.7,53.9 486.4,52.7 487.0,51.3C487.7,49.9 488.4,47.7 489.1,46.2C489.6,44.9 490.2,43.7 490.7,42.9C491.2,42.2 491.7,41.9 492.1,41.9C492.6,41.8 493.1,42.3 493.6,42.7C494.3,43.3 494.9,44.4 495.6,45.2C496.4,46.0 497.3,46.6 498.1,47.4C498.7,48.0 499.4,48.8 500.0,49.2C500.8,49.9 501.6,50.8 502.5,50.7C503.1,50.6 503.8,49.4 504.5,48.6C505.2,47.9 505.9,46.7 506.5,46.2C507.4,45.5 508.3,45.1 509.2,44.9C510.1,44.8 511.0,45.1 511.9,45.6C512.5,45.9 513.2,46.5 513.9,47.6C514.4,48.5 515.0,49.8 515.5,51.3C516.1,52.9 516.8,55.2 517.4,56.8C518.1,58.6 518.7,60.3 519.4,61.5C520.1,62.7 520.8,63.6 521.5,64.2C522.1,64.7 522.8,64.8 523.5,64.8C524.4,64.7 525.3,64.5 526.2,64.0C527.1,63.4 528.1,62.5 529.0,61.5C530.1,60.3 531.2,58.8 532.3,57.4C533.2,56.2 534.2,55.0 535.2,53.9C536.0,53.0 536.9,52.3 537.8,51.3C538.6,50.3 539.4,48.7 540.3,47.8C540.9,47.0 541.6,46.4 542.3,46.2C542.9,46.0 543.4,46.1 543.9,46.6C544.5,47.1 545.0,48.0 545.6,49.2C546.2,50.6 546.8,52.7 547.4,54.3C548.0,55.8 548.5,57.5 549.0,58.4C549.7,59.6 550.4,60.3 551.1,60.9C552.1,61.7 553.1,62.1 554.2,62.5C555.5,63.1 556.9,63.4 558.2,63.8C559.9,64.2 561.7,64.6 563.4,65.0C565.1,65.3 566.8,65.6 568.5,65.9C569.8,66.1 571.2,66.4 572.6,66.4C573.9,66.4 575.3,65.7 576.6,65.7C577.7,65.7 578.7,66.1 579.7,66.2C581.7,66.5 583.8,66.8 585.8,66.9C591.3,67.3 596.7,67.5 602.2,67.6C609.0,67.9 615.8,68.1 622.6,68.2C630.1,68.3 637.6,68.3 645.1,68.4"/>
</g>
<text transform="translate(368.70,306.00) scale(1,1.09)" font-size="12.2" fill="#9b1c14" stroke="#9b1c14" stroke-width="0.12" font-family="DejaVu Sans, Liberation Sans, sans-serif">Pd<tspan font-size='8.4' dy='1.8'>1</tspan><tspan dy='-1.8'>(100)</tspan></text>
<text transform="translate(585.80,304.00)" font-size="12.7" fill="#9b1c14" stroke="#9b1c14" stroke-width="0.1" font-family="DejaVu Serif, Liberation Serif, serif" font-style="italic">f</text>
<text transform="translate(590.70,306.40)" font-size="8.6" fill="#9b1c14" stroke="#9b1c14" stroke-width="0.2" font-family="DejaVu Serif, Liberation Serif, serif" font-style="italic">d</text>
<text transform="translate(596.90,304.00) scale(1,1.09)" font-size="12.2" fill="#9b1c14" stroke="#9b1c14" stroke-width="0.12" font-family="DejaVu Sans, Liberation Sans, sans-serif">:</text>
<text transform="translate(639.40,304.00) scale(1,1.09)" font-size="12.2" fill="#9b1c14" text-anchor="end" stroke="#9b1c14" stroke-width="0.12" font-family="DejaVu Sans, Liberation Sans, sans-serif">0.938</text>
<text transform="translate(368.70,271.00) scale(1,1.09)" font-size="12.2" fill="#a8322a" stroke="#a8322a" stroke-width="0.12" font-family="DejaVu Sans, Liberation Sans, sans-serif">Pd<tspan font-size='8.4' dy='1.8'>1</tspan><tspan dy='-1.8'>(111)</tspan></text>
<text transform="translate(588.40,269.00)" font-size="12.7" fill="#a8322a" stroke="#a8322a" stroke-width="0.1" font-family="DejaVu Serif, Liberation Serif, serif" font-style="italic">f</text>
<text transform="translate(593.30,271.40)" font-size="8.6" fill="#a8322a" stroke="#a8322a" stroke-width="0.2" font-family="DejaVu Serif, Liberation Serif, serif" font-style="italic">d</text>
<text transform="translate(599.50,269.00) scale(1,1.09)" font-size="12.2" fill="#a8322a" stroke="#a8322a" stroke-width="0.12" font-family="DejaVu Sans, Liberation Sans, sans-serif">:</text>
<text transform="translate(640.40,269.00) scale(1,1.09)" font-size="12.2" fill="#a8322a" text-anchor="end" stroke="#a8322a" stroke-width="0.12" font-family="DejaVu Sans, Liberation Sans, sans-serif">0.930</text>
<text transform="translate(368.70,237.00) scale(1,1.09)" font-size="12.2" fill="#c65a50" stroke="#c65a50" stroke-width="0.12" font-family="DejaVu Sans, Liberation Sans, sans-serif">Ni<tspan font-size='8.4' dy='1.8'>1</tspan><tspan dy='-1.8'>(100)</tspan></text>
<text transform="translate(588.40,233.00)" font-size="12.7" fill="#c65a50" stroke="#c65a50" stroke-width="0.1" font-family="DejaVu Serif, Liberation Serif, serif" font-style="italic">f</text>
<text transform="translate(593.30,235.40)" font-size="8.6" fill="#c65a50" stroke="#c65a50" stroke-width="0.2" font-family="DejaVu Serif, Liberation Serif, serif" font-style="italic">d</text>
<text transform="translate(599.50,233.00) scale(1,1.09)" font-size="12.2" fill="#c65a50" stroke="#c65a50" stroke-width="0.12" font-family="DejaVu Sans, Liberation Sans, sans-serif">:</text>
<text transform="translate(640.40,233.00) scale(1,1.09)" font-size="12.2" fill="#c65a50" text-anchor="end" stroke="#c65a50" stroke-width="0.12" font-family="DejaVu Sans, Liberation Sans, sans-serif">0.921</text>
<text transform="translate(368.70,202.00) scale(1,1.09)" font-size="12.2" fill="#d56c5d" stroke="#d56c5d" stroke-width="0.12" font-family="DejaVu Sans, Liberation Sans, sans-serif">Ni<tspan font-size='8.4' dy='1.8'>1</tspan><tspan dy='-1.8'>(111)</tspan></text>
<text transform="translate(588.40,200.00)" font-size="12.7" fill="#d56c5d" stroke="#d56c5d" stroke-width="0.1" font-family="DejaVu Serif, Liberation Serif, serif" font-style="italic">f</text>
<text transform="translate(593.30,202.40)" font-size="8.6" fill="#d56c5d" stroke="#d56c5d" stroke-width="0.2" font-family="DejaVu Serif, Liberation Serif, serif" font-style="italic">d</text>
<text transform="translate(599.50,200.00) scale(1,1.09)" font-size="12.2" fill="#d56c5d" stroke="#d56c5d" stroke-width="0.12" font-family="DejaVu Sans, Liberation Sans, sans-serif">:</text>
<text transform="translate(640.40,200.00) scale(1,1.09)" font-size="12.2" fill="#d56c5d" text-anchor="end" stroke="#d56c5d" stroke-width="0.12" font-family="DejaVu Sans, Liberation Sans, sans-serif">0.915</text>
<text transform="translate(368.70,168.00) scale(1,1.09)" font-size="12.2" fill="#a9bad6" stroke="#a9bad6" stroke-width="0.12" font-family="DejaVu Sans, Liberation Sans, sans-serif">Rh<tspan font-size='8.4' dy='1.8'>1</tspan><tspan dy='-1.8'>(100)</tspan></text>
<text transform="translate(585.80,164.00)" font-size="12.7" fill="#a9bad6" stroke="#a9bad6" stroke-width="0.1" font-family="DejaVu Serif, Liberation Serif, serif" font-style="italic">f</text>
<text transform="translate(590.70,166.40)" font-size="8.6" fill="#a9bad6" stroke="#a9bad6" stroke-width="0.2" font-family="DejaVu Serif, Liberation Serif, serif" font-style="italic">d</text>
<text transform="translate(596.90,164.00) scale(1,1.09)" font-size="12.2" fill="#a9bad6" stroke="#a9bad6" stroke-width="0.12" font-family="DejaVu Sans, Liberation Sans, sans-serif">:</text>
<text transform="translate(639.40,164.00) scale(1,1.09)" font-size="12.2" fill="#a9bad6" text-anchor="end" stroke="#a9bad6" stroke-width="0.12" font-family="DejaVu Sans, Liberation Sans, sans-serif">0.895</text>
<text transform="translate(368.70,133.00) scale(1,1.09)" font-size="12.2" fill="#a9bad6" stroke="#a9bad6" stroke-width="0.12" font-family="DejaVu Sans, Liberation Sans, sans-serif">Rh<tspan font-size='8.4' dy='1.8'>1</tspan><tspan dy='-1.8'>(111)</tspan></text>
<text transform="translate(588.40,130.00)" font-size="12.7" fill="#a9bad6" stroke="#a9bad6" stroke-width="0.1" font-family="DejaVu Serif, Liberation Serif, serif" font-style="italic">f</text>
<text transform="translate(593.30,132.40)" font-size="8.6" fill="#a9bad6" stroke="#a9bad6" stroke-width="0.2" font-family="DejaVu Serif, Liberation Serif, serif" font-style="italic">d</text>
<text transform="translate(599.50,130.00) scale(1,1.09)" font-size="12.2" fill="#a9bad6" stroke="#a9bad6" stroke-width="0.12" font-family="DejaVu Sans, Liberation Sans, sans-serif">:</text>
<text transform="translate(640.40,130.00) scale(1,1.09)" font-size="12.2" fill="#a9bad6" text-anchor="end" stroke="#a9bad6" stroke-width="0.12" font-family="DejaVu Sans, Liberation Sans, sans-serif">0.887</text>
<text transform="translate(368.70,98.00) scale(1,1.09)" font-size="12.2" fill="#b4c5de" stroke="#b4c5de" stroke-width="0.12" font-family="DejaVu Sans, Liberation Sans, sans-serif">Ru<tspan font-size='8.4' dy='1.8'>1</tspan><tspan dy='-1.8'>(100)</tspan></text>
<text transform="translate(585.80,96.00)" font-size="12.7" fill="#b4c5de" stroke="#b4c5de" stroke-width="0.1" font-family="DejaVu Serif, Liberation Serif, serif" font-style="italic">f</text>
<text transform="translate(590.70,98.40)" font-size="8.6" fill="#b4c5de" stroke="#b4c5de" stroke-width="0.2" font-family="DejaVu Serif, Liberation Serif, serif" font-style="italic">d</text>
<text transform="translate(596.90,96.00) scale(1,1.09)" font-size="12.2" fill="#b4c5de" stroke="#b4c5de" stroke-width="0.12" font-family="DejaVu Sans, Liberation Sans, sans-serif">:</text>
<text transform="translate(639.40,96.00) scale(1,1.09)" font-size="12.2" fill="#b4c5de" text-anchor="end" stroke="#b4c5de" stroke-width="0.12" font-family="DejaVu Sans, Liberation Sans, sans-serif">0.844</text>
<text transform="translate(368.70,64.00) scale(1,1.09)" font-size="12.2" fill="#b4c5de" stroke="#b4c5de" stroke-width="0.12" font-family="DejaVu Sans, Liberation Sans, sans-serif">Ru<tspan font-size='8.4' dy='1.8'>1</tspan><tspan dy='-1.8'>(111)</tspan></text>
<text transform="translate(588.40,61.00)" font-size="12.7" fill="#b4c5de" stroke="#b4c5de" stroke-width="0.1" font-family="DejaVu Serif, Liberation Serif, serif" font-style="italic">f</text>
<text transform="translate(593.30,63.40)" font-size="8.6" fill="#b4c5de" stroke="#b4c5de" stroke-width="0.2" font-family="DejaVu Serif, Liberation Serif, serif" font-style="italic">d</text>
<text transform="translate(599.50,61.00) scale(1,1.09)" font-size="12.2" fill="#b4c5de" stroke="#b4c5de" stroke-width="0.12" font-family="DejaVu Sans, Liberation Sans, sans-serif">:</text>
<text transform="translate(640.40,61.00) scale(1,1.09)" font-size="12.2" fill="#b4c5de" text-anchor="end" stroke="#b4c5de" stroke-width="0.12" font-family="DejaVu Sans, Liberation Sans, sans-serif">0.840</text>
<path d="M46.9,28.3H328.5M46.9,310.9H328.5" fill="none" stroke="#000" stroke-width="1.8"/>
<path d="M47.9,27.4V311.8M327.5,27.4V311.8" fill="none" stroke="#000" stroke-width="2.0"/>
<g stroke="#000">
<line x1="43.5" x2="47.9" y1="310.90" y2="310.90" stroke-width="1.8"/>
<line x1="45.0" x2="47.9" y1="302.83" y2="302.83" stroke-width="1.3"/>
<line x1="45.0" x2="47.9" y1="294.75" y2="294.75" stroke-width="1.3"/>
<line x1="45.0" x2="47.9" y1="286.68" y2="286.68" stroke-width="1.3"/>
<line x1="45.0" x2="47.9" y1="278.60" y2="278.60" stroke-width="1.3"/>
<line x1="43.5" x2="47.9" y1="270.53" y2="270.53" stroke-width="1.8"/>
<line x1="45.0" x2="47.9" y1="262.45" y2="262.45" stroke-width="1.3"/>
<line x1="45.0" x2="47.9" y1="254.38" y2="254.38" stroke-width="1.3"/>
<line x1="45.0" x2="47.9" y1="246.31" y2="246.31" stroke-width="1.3"/>
<line x1="45.0" x2="47.9" y1="238.23" y2="238.23" stroke-width="1.3"/>
<line x1="43.5" x2="47.9" y1="230.16" y2="230.16" stroke-width="1.8"/>
<line x1="45.0" x2="47.9" y1="222.08" y2="222.08" stroke-width="1.3"/>
<line x1="45.0" x2="47.9" y1="214.01" y2="214.01" stroke-width="1.3"/>
<line x1="45.0" x2="47.9" y1="205.93" y2="205.93" stroke-width="1.3"/>
<line x1="45.0" x2="47.9" y1="197.86" y2="197.86" stroke-width="1.3"/>
<line x1="43.5" x2="47.9" y1="189.79" y2="189.79" stroke-width="1.8"/>
<line x1="45.0" x2="47.9" y1="181.71" y2="181.71" stroke-width="1.3"/>
<line x1="45.0" x2="47.9" y1="173.64" y2="173.64" stroke-width="1.3"/>
<line x1="45.0" x2="47.9" y1="165.56" y2="165.56" stroke-width="1.3"/>
<line x1="45.0" x2="47.9" y1="157.49" y2="157.49" stroke-width="1.3"/>
<line x1="43.5" x2="47.9" y1="149.41" y2="149.41" stroke-width="1.8"/>
<line x1="45.0" x2="47.9" y1="141.34" y2="141.34" stroke-width="1.3"/>
<line x1="45.0" x2="47.9" y1="133.27" y2="133.27" stroke-width="1.3"/>
<line x1="45.0" x2="47.9" y1="125.19" y2="125.19" stroke-width="1.3"/>
<line x1="45.0" x2="47.9" y1="117.12" y2="117.12" stroke-width="1.3"/>
<line x1="43.5" x2="47.9" y1="109.04" y2="109.04" stroke-width="1.8"/>
<line x1="45.0" x2="47.9" y1="100.97" y2="100.97" stroke-width="1.3"/>
<line x1="45.0" x2="47.9" y1="92.89" y2="92.89" stroke-width="1.3"/>
<line x1="45.0" x2="47.9" y1="84.82" y2="84.82" stroke-width="1.3"/>
<line x1="45.0" x2="47.9" y1="76.75" y2="76.75" stroke-width="1.3"/>
<line x1="43.5" x2="47.9" y1="68.67" y2="68.67" stroke-width="1.8"/>
<line x1="45.0" x2="47.9" y1="60.60" y2="60.60" stroke-width="1.3"/>
<line x1="45.0" x2="47.9" y1="52.52" y2="52.52" stroke-width="1.3"/>
<line x1="45.0" x2="47.9" y1="44.45" y2="44.45" stroke-width="1.3"/>
<line x1="45.0" x2="47.9" y1="36.37" y2="36.37" stroke-width="1.3"/>
<line x1="43.5" x2="47.9" y1="28.30" y2="28.30" stroke-width="1.8"/>
<line x1="47.90" x2="47.90" y1="310.9" y2="315.5" stroke-width="1.8"/>
<line x1="59.55" x2="59.55" y1="310.9" y2="313.8" stroke-width="1.3"/>
<line x1="71.20" x2="71.20" y1="310.9" y2="313.8" stroke-width="1.3"/>
<line x1="82.85" x2="82.85" y1="310.9" y2="313.8" stroke-width="1.3"/>
<line x1="94.50" x2="94.50" y1="310.9" y2="315.5" stroke-width="1.8"/>
<line x1="106.15" x2="106.15" y1="310.9" y2="313.8" stroke-width="1.3"/>
<line x1="117.80" x2="117.80" y1="310.9" y2="313.8" stroke-width="1.3"/>
<line x1="129.45" x2="129.45" y1="310.9" y2="313.8" stroke-width="1.3"/>
<line x1="141.10" x2="141.10" y1="310.9" y2="315.5" stroke-width="1.8"/>
<line x1="152.75" x2="152.75" y1="310.9" y2="313.8" stroke-width="1.3"/>
<line x1="164.40" x2="164.40" y1="310.9" y2="313.8" stroke-width="1.3"/>
<line x1="176.05" x2="176.05" y1="310.9" y2="313.8" stroke-width="1.3"/>
<line x1="187.70" x2="187.70" y1="310.9" y2="315.5" stroke-width="1.8"/>
<line x1="199.35" x2="199.35" y1="310.9" y2="313.8" stroke-width="1.3"/>
<line x1="211.00" x2="211.00" y1="310.9" y2="313.8" stroke-width="1.3"/>
<line x1="222.65" x2="222.65" y1="310.9" y2="313.8" stroke-width="1.3"/>
<line x1="234.30" x2="234.30" y1="310.9" y2="315.5" stroke-width="1.8"/>
<line x1="245.95" x2="245.95" y1="310.9" y2="313.8" stroke-width="1.3"/>
<line x1="257.60" x2="257.60" y1="310.9" y2="313.8" stroke-width="1.3"/>
<line x1="269.25" x2="269.25" y1="310.9" y2="313.8" stroke-width="1.3"/>
<line x1="280.90" x2="280.90" y1="310.9" y2="315.5" stroke-width="1.8"/>
<line x1="292.55" x2="292.55" y1="310.9" y2="313.8" stroke-width="1.3"/>
<line x1="304.20" x2="304.20" y1="310.9" y2="313.8" stroke-width="1.3"/>
<line x1="315.85" x2="315.85" y1="310.9" y2="313.8" stroke-width="1.3"/>
<line x1="327.50" x2="327.50" y1="310.9" y2="315.5" stroke-width="1.8"/>
</g>
<text transform="translate(39.10,316.70) scale(1,1.09)" font-size="14.67" fill="#000" text-anchor="end" stroke="#000" stroke-width="0.3" font-family="DejaVu Sans, Liberation Sans, sans-serif">0</text>
<text transform="translate(39.10,276.33) scale(1,1.09)" font-size="14.67" fill="#000" text-anchor="end" stroke="#000" stroke-width="0.3" font-family="DejaVu Sans, Liberation Sans, sans-serif">10</text>
<text transform="translate(39.10,235.96) scale(1,1.09)" font-size="14.67" fill="#000" text-anchor="end" stroke="#000" stroke-width="0.3" font-family="DejaVu Sans, Liberation Sans, sans-serif">20</text>
<text transform="translate(39.10,195.59) scale(1,1.09)" font-size="14.67" fill="#000" text-anchor="end" stroke="#000" stroke-width="0.3" font-family="DejaVu Sans, Liberation Sans, sans-serif">30</text>
<text transform="translate(39.10,155.21) scale(1,1.09)" font-size="14.67" fill="#000" text-anchor="end" stroke="#000" stroke-width="0.3" font-family="DejaVu Sans, Liberation Sans, sans-serif">40</text>
<text transform="translate(39.10,114.84) scale(1,1.09)" font-size="14.67" fill="#000" text-anchor="end" stroke="#000" stroke-width="0.3" font-family="DejaVu Sans, Liberation Sans, sans-serif">50</text>
<text transform="translate(39.10,74.47) scale(1,1.09)" font-size="14.67" fill="#000" text-anchor="end" stroke="#000" stroke-width="0.3" font-family="DejaVu Sans, Liberation Sans, sans-serif">60</text>
<text transform="translate(39.10,34.10) scale(1,1.09)" font-size="14.67" fill="#000" text-anchor="end" stroke="#000" stroke-width="0.3" font-family="DejaVu Sans, Liberation Sans, sans-serif">70</text>
<text transform="translate(47.90,331.90) scale(1,1.09)" font-size="14.67" fill="#000" text-anchor="middle" stroke="#000" stroke-width="0.3" font-family="DejaVu Sans, Liberation Sans, sans-serif">−8</text>
<text transform="translate(94.50,331.90) scale(1,1.09)" font-size="14.67" fill="#000" text-anchor="middle" stroke="#000" stroke-width="0.3" font-family="DejaVu Sans, Liberation Sans, sans-serif">−6</text>
<text transform="translate(141.10,331.90) scale(1,1.09)" font-size="14.67" fill="#000" text-anchor="middle" stroke="#000" stroke-width="0.3" font-family="DejaVu Sans, Liberation Sans, sans-serif">−4</text>
<text transform="translate(187.70,331.90) scale(1,1.09)" font-size="14.67" fill="#000" text-anchor="middle" stroke="#000" stroke-width="0.3" font-family="DejaVu Sans, Liberation Sans, sans-serif">−2</text>
<text transform="translate(234.30,331.90) scale(1,1.09)" font-size="14.67" fill="#000" text-anchor="middle" stroke="#000" stroke-width="0.3" font-family="DejaVu Sans, Liberation Sans, sans-serif">0</text>
<text transform="translate(280.90,331.90) scale(1,1.09)" font-size="14.67" fill="#000" text-anchor="middle" stroke="#000" stroke-width="0.3" font-family="DejaVu Sans, Liberation Sans, sans-serif">2</text>
<text transform="translate(327.50,331.90) scale(1,1.09)" font-size="14.67" fill="#000" text-anchor="middle" stroke="#000" stroke-width="0.3" font-family="DejaVu Sans, Liberation Sans, sans-serif">4</text>
<text transform="translate(139.50,345.20) scale(1,1.09)" font-size="14.67" fill="#000" stroke="#000" stroke-width="0.3" font-family="DejaVu Sans, Liberation Sans, sans-serif">ϵ</text>
<text transform="translate(149.50,345.20) scale(1,1.09)" font-size="14.67" fill="#000" stroke="#000" stroke-width="0.3" font-family="DejaVu Sans, Liberation Sans, sans-serif">−</text>
<text transform="translate(165.10,345.20) scale(1,1.09)" font-size="14.67" fill="#000" stroke="#000" stroke-width="0.3" font-family="DejaVu Sans, Liberation Sans, sans-serif">ϵ</text>
<text transform="translate(171.80,348.40) scale(1,1.09)" font-size="10.6" fill="#000" stroke="#000" stroke-width="0.3" font-family="DejaVu Sans, Liberation Sans, sans-serif">fermi</text>
<text transform="translate(205.00,345.20) scale(1,1.09)" font-size="14.67" fill="#000" stroke="#000" stroke-width="0.3" font-family="DejaVu Sans, Liberation Sans, sans-serif">(eV)</text>
<path d="M364.5,28.3H646.0M364.5,310.9H646.0" fill="none" stroke="#000" stroke-width="1.8"/>
<path d="M365.5,27.4V311.8M645.0,27.4V311.8" fill="none" stroke="#000" stroke-width="2.0"/>
<g stroke="#000">
<line x1="361.1" x2="365.5" y1="310.90" y2="310.90" stroke-width="1.8"/>
<line x1="362.6" x2="365.5" y1="302.83" y2="302.83" stroke-width="1.3"/>
<line x1="362.6" x2="365.5" y1="294.75" y2="294.75" stroke-width="1.3"/>
<line x1="362.6" x2="365.5" y1="286.68" y2="286.68" stroke-width="1.3"/>
<line x1="362.6" x2="365.5" y1="278.60" y2="278.60" stroke-width="1.3"/>
<line x1="361.1" x2="365.5" y1="270.53" y2="270.53" stroke-width="1.8"/>
<line x1="362.6" x2="365.5" y1="262.45" y2="262.45" stroke-width="1.3"/>
<line x1="362.6" x2="365.5" y1="254.38" y2="254.38" stroke-width="1.3"/>
<line x1="362.6" x2="365.5" y1="246.31" y2="246.31" stroke-width="1.3"/>
<line x1="362.6" x2="365.5" y1="238.23" y2="238.23" stroke-width="1.3"/>
<line x1="361.1" x2="365.5" y1="230.16" y2="230.16" stroke-width="1.8"/>
<line x1="362.6" x2="365.5" y1="222.08" y2="222.08" stroke-width="1.3"/>
<line x1="362.6" x2="365.5" y1="214.01" y2="214.01" stroke-width="1.3"/>
<line x1="362.6" x2="365.5" y1="205.93" y2="205.93" stroke-width="1.3"/>
<line x1="362.6" x2="365.5" y1="197.86" y2="197.86" stroke-width="1.3"/>
<line x1="361.1" x2="365.5" y1="189.79" y2="189.79" stroke-width="1.8"/>
<line x1="362.6" x2="365.5" y1="181.71" y2="181.71" stroke-width="1.3"/>
<line x1="362.6" x2="365.5" y1="173.64" y2="173.64" stroke-width="1.3"/>
<line x1="362.6" x2="365.5" y1="165.56" y2="165.56" stroke-width="1.3"/>
<line x1="362.6" x2="365.5" y1="157.49" y2="157.49" stroke-width="1.3"/>
<line x1="361.1" x2="365.5" y1="149.41" y2="149.41" stroke-width="1.8"/>
<line x1="362.6" x2="365.5" y1="141.34" y2="141.34" stroke-width="1.3"/>
<line x1="362.6" x2="365.5" y1="133.27" y2="133.27" stroke-width="1.3"/>
<line x1="362.6" x2="365.5" y1="125.19" y2="125.19" stroke-width="1.3"/>
<line x1="362.6" x2="365.5" y1="117.12" y2="117.12" stroke-width="1.3"/>
<line x1="361.1" x2="365.5" y1="109.04" y2="109.04" stroke-width="1.8"/>
<line x1="362.6" x2="365.5" y1="100.97" y2="100.97" stroke-width="1.3"/>
<line x1="362.6" x2="365.5" y1="92.89" y2="92.89" stroke-width="1.3"/>
<line x1="362.6" x2="365.5" y1="84.82" y2="84.82" stroke-width="1.3"/>
<line x1="362.6" x2="365.5" y1="76.75" y2="76.75" stroke-width="1.3"/>
<line x1="361.1" x2="365.5" y1="68.67" y2="68.67" stroke-width="1.8"/>
<line x1="362.6" x2="365.5" y1="60.60" y2="60.60" stroke-width="1.3"/>
<line x1="362.6" x2="365.5" y1="52.52" y2="52.52" stroke-width="1.3"/>
<line x1="362.6" x2="365.5" y1="44.45" y2="44.45" stroke-width="1.3"/>
<line x1="362.6" x2="365.5" y1="36.37" y2="36.37" stroke-width="1.3"/>
<line x1="361.1" x2="365.5" y1="28.30" y2="28.30" stroke-width="1.8"/>
<line x1="365.50" x2="365.50" y1="310.9" y2="315.5" stroke-width="1.8"/>
<line x1="377.15" x2="377.15" y1="310.9" y2="313.8" stroke-width="1.3"/>
<line x1="388.79" x2="388.79" y1="310.9" y2="313.8" stroke-width="1.3"/>
<line x1="400.44" x2="400.44" y1="310.9" y2="313.8" stroke-width="1.3"/>
<line x1="412.08" x2="412.08" y1="310.9" y2="315.5" stroke-width="1.8"/>
<line x1="423.73" x2="423.73" y1="310.9" y2="313.8" stroke-width="1.3"/>
<line x1="435.38" x2="435.38" y1="310.9" y2="313.8" stroke-width="1.3"/>
<line x1="447.02" x2="447.02" y1="310.9" y2="313.8" stroke-width="1.3"/>
<line x1="458.67" x2="458.67" y1="310.9" y2="315.5" stroke-width="1.8"/>
<line x1="470.31" x2="470.31" y1="310.9" y2="313.8" stroke-width="1.3"/>
<line x1="481.96" x2="481.96" y1="310.9" y2="313.8" stroke-width="1.3"/>
<line x1="493.60" x2="493.60" y1="310.9" y2="313.8" stroke-width="1.3"/>
<line x1="505.25" x2="505.25" y1="310.9" y2="315.5" stroke-width="1.8"/>
<line x1="516.90" x2="516.90" y1="310.9" y2="313.8" stroke-width="1.3"/>
<line x1="528.54" x2="528.54" y1="310.9" y2="313.8" stroke-width="1.3"/>
<line x1="540.19" x2="540.19" y1="310.9" y2="313.8" stroke-width="1.3"/>
<line x1="551.83" x2="551.83" y1="310.9" y2="315.5" stroke-width="1.8"/>
<line x1="563.48" x2="563.48" y1="310.9" y2="313.8" stroke-width="1.3"/>
<line x1="575.12" x2="575.12" y1="310.9" y2="313.8" stroke-width="1.3"/>
<line x1="586.77" x2="586.77" y1="310.9" y2="313.8" stroke-width="1.3"/>
<line x1="598.42" x2="598.42" y1="310.9" y2="315.5" stroke-width="1.8"/>
<line x1="610.06" x2="610.06" y1="310.9" y2="313.8" stroke-width="1.3"/>
<line x1="621.71" x2="621.71" y1="310.9" y2="313.8" stroke-width="1.3"/>
<line x1="633.35" x2="633.35" y1="310.9" y2="313.8" stroke-width="1.3"/>
<line x1="645.00" x2="645.00" y1="310.9" y2="315.5" stroke-width="1.8"/>
</g>
<text transform="translate(365.50,331.90) scale(1,1.09)" font-size="14.67" fill="#000" text-anchor="middle" stroke="#000" stroke-width="0.3" font-family="DejaVu Sans, Liberation Sans, sans-serif">−8</text>
<text transform="translate(412.08,331.90) scale(1,1.09)" font-size="14.67" fill="#000" text-anchor="middle" stroke="#000" stroke-width="0.3" font-family="DejaVu Sans, Liberation Sans, sans-serif">−6</text>
<text transform="translate(458.67,331.90) scale(1,1.09)" font-size="14.67" fill="#000" text-anchor="middle" stroke="#000" stroke-width="0.3" font-family="DejaVu Sans, Liberation Sans, sans-serif">−4</text>
<text transform="translate(505.25,331.90) scale(1,1.09)" font-size="14.67" fill="#000" text-anchor="middle" stroke="#000" stroke-width="0.3" font-family="DejaVu Sans, Liberation Sans, sans-serif">−2</text>
<text transform="translate(551.83,331.90) scale(1,1.09)" font-size="14.67" fill="#000" text-anchor="middle" stroke="#000" stroke-width="0.3" font-family="DejaVu Sans, Liberation Sans, sans-serif">0</text>
<text transform="translate(598.42,331.90) scale(1,1.09)" font-size="14.67" fill="#000" text-anchor="middle" stroke="#000" stroke-width="0.3" font-family="DejaVu Sans, Liberation Sans, sans-serif">2</text>
<text transform="translate(645.00,331.90) scale(1,1.09)" font-size="14.67" fill="#000" text-anchor="middle" stroke="#000" stroke-width="0.3" font-family="DejaVu Sans, Liberation Sans, sans-serif">4</text>
<text transform="translate(457.10,345.20) scale(1,1.09)" font-size="14.67" fill="#000" stroke="#000" stroke-width="0.3" font-family="DejaVu Sans, Liberation Sans, sans-serif">ϵ</text>
<text transform="translate(467.10,345.20) scale(1,1.09)" font-size="14.67" fill="#000" stroke="#000" stroke-width="0.3" font-family="DejaVu Sans, Liberation Sans, sans-serif">−</text>
<text transform="translate(482.70,345.20) scale(1,1.09)" font-size="14.67" fill="#000" stroke="#000" stroke-width="0.3" font-family="DejaVu Sans, Liberation Sans, sans-serif">ϵ</text>
<text transform="translate(489.40,348.40) scale(1,1.09)" font-size="10.6" fill="#000" stroke="#000" stroke-width="0.3" font-family="DejaVu Sans, Liberation Sans, sans-serif">fermi</text>
<text transform="translate(522.60,345.20) scale(1,1.09)" font-size="14.67" fill="#000" stroke="#000" stroke-width="0.3" font-family="DejaVu Sans, Liberation Sans, sans-serif">(eV)</text>
<text transform="translate(183.30,20.70) scale(1,1.09)" font-size="14.85" fill="#000" text-anchor="middle" stroke="#000" stroke-width="0.3" font-family="DejaVu Sans, Liberation Sans, sans-serif">Pure Metals</text>
<text transform="translate(507.45,20.70) scale(1,1.09)" font-size="14.7" fill="#000" text-anchor="middle" stroke="#000" stroke-width="0.3" font-family="DejaVu Sans, Liberation Sans, sans-serif">Single Atom Alloys</text>
<text transform="translate(-1.20,11.60) scale(1,1.09)" font-size="15" fill="#000" stroke="#000" stroke-width="0.3" font-family="DejaVu Sans, Liberation Sans, sans-serif">(a)</text>
<text transform="translate(337.20,11.60) scale(1,1.09)" font-size="15" fill="#000" stroke="#000" stroke-width="0.3" font-family="DejaVu Sans, Liberation Sans, sans-serif">(b)</text>
<text transform="translate(12.10,167.90) rotate(-90)" font-size="14.75" fill="#000" text-anchor="middle" stroke="#000" stroke-width="0.2" font-family="DejaVu Sans, Liberation Sans, sans-serif">pDOS (arbitrary units)</text>
<text transform="translate(668.50,167.95) rotate(-90)" font-size="14.75" fill="#000" text-anchor="middle" stroke="#000" stroke-width="0.2" font-family="DejaVu Sans, Liberation Sans, sans-serif">Increasing charge transfer</text>
<line x1="680.7" x2="680.7" y1="271.8" y2="74" stroke="#000" stroke-width="2.3"/>
<path d="M676.5,74.8 L680.7,66.4 L684.9,74.8 Z" fill="#000"/>
</svg>
</body></html>
